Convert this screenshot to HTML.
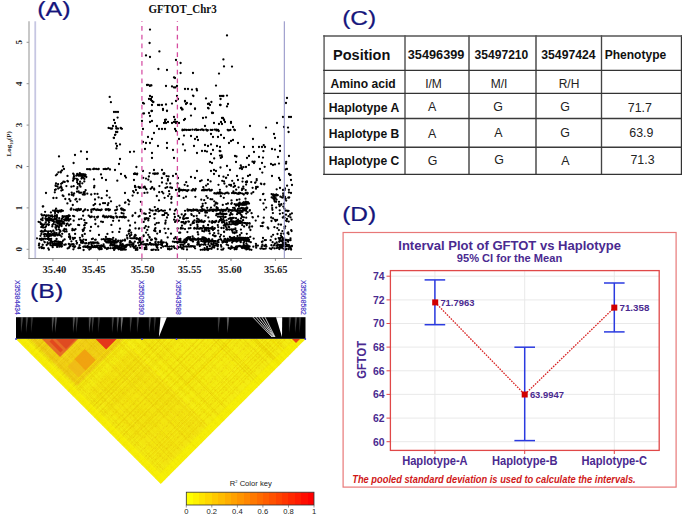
<!DOCTYPE html>
<html><head><meta charset="utf-8"><style>
html,body{margin:0;padding:0;background:#fff;overflow:hidden;}
svg{display:block;}
</style></head><body>
<svg width="685" height="516" viewBox="0 0 685 516">
<rect width="685" height="516" fill="#fff"/>
<text x="37.2" y="15.8" font-family='"Liberation Sans", sans-serif' font-size="19.6" fill="#16167c" font-weight="normal" text-anchor="start" textLength="33.4" lengthAdjust="spacingAndGlyphs" stroke="#16167c" stroke-width="0.2">(A)</text>
<text x="148.4" y="13.2" font-family='"Liberation Serif", serif' font-size="12.4" fill="#111" font-weight="bold" text-anchor="start" textLength="68.3" lengthAdjust="spacingAndGlyphs" >GFTOT_Chr3</text>
<path d="M109.7 96.9h0M110.9 102.2h0M114.0 112.0h0M116.0 112.0h0M118.0 112.0h0M117.6 117.6h0M114.0 120.0h0M115.0 123.0h0M113.0 126.0h0M116.0 132.0h0M115.0 135.0h0M114.0 138.0h0M116.0 143.6h0M120.0 144.4h0M117.0 146.0h0M116.4 148.4h0M130.0 152.0h0M134.0 151.6h0M120.0 159.0h0M119.0 164.0h0M115.0 170.0h0M117.3 132.0h0M115.4 134.6h0M113.7 137.8h0M116.0 126.4h0M59.0 156.4h0M75.0 155.0h0M81.0 151.4h0M87.0 152.0h0M87.0 159.0h0M73.6 163.0h0M63.0 166.4h0M64.0 169.0h0M62.0 170.4h0M121.0 174.0h0M125.0 176.0h0M126.0 177.6h0M101.0 174.4h0M102.0 178.0h0M106.0 180.0h0M134.0 174.0h0M137.0 174.4h0M136.4 167.0h0M46.0 193.0h0M107.0 191.0h0M125.0 193.0h0M134.0 180.0h0M135.0 186.0h0M136.0 190.0h0M150.0 96.0h0M152.0 97.0h0M149.0 99.0h0M151.0 100.0h0M153.0 102.0h0M158.0 105.0h0M162.0 105.0h0M166.0 104.4h0M152.0 105.0h0M143.0 103.0h0M163.0 110.0h0M167.0 111.0h0M149.0 113.0h0M152.0 111.0h0M143.0 113.6h0M165.0 120.0h0M166.0 123.0h0M164.0 123.0h0M150.0 122.0h0M152.0 121.0h0M157.0 126.0h0M159.0 129.0h0M162.0 129.0h0M165.0 129.0h0M143.0 129.0h0M154.0 133.0h0M148.0 137.0h0M152.0 139.0h0M143.0 142.0h0M146.0 143.0h0M150.0 143.0h0M158.0 146.0h0M167.0 143.0h0M167.0 148.0h0M145.0 149.0h0M152.0 153.0h0M152.0 158.0h0M143.0 171.0h0M154.0 170.0h0M162.0 170.0h0M150.0 29.6h0M149.6 43.0h0M159.4 51.4h0M146.0 55.4h0M150.0 57.0h0M227.0 35.4h0M176.0 60.0h0M180.6 63.0h0M223.4 59.4h0M224.0 66.4h0M232.0 66.6h0M158.4 69.0h0M167.0 70.0h0M180.6 73.0h0M193.0 73.0h0M219.0 73.6h0M174.0 77.4h0M175.0 78.0h0M147.0 85.0h0M150.0 85.4h0M151.4 85.4h0M166.0 86.0h0M172.0 86.4h0M174.0 87.4h0M175.4 87.4h0M177.0 86.0h0M185.0 89.0h0M188.0 89.0h0M192.0 89.6h0M196.6 89.0h0M197.0 90.4h0M216.0 85.6h0M193.4 96.0h0M220.0 96.0h0M222.0 96.0h0M223.4 96.0h0M227.0 95.6h0M220.6 99.0h0M150.0 96.0h0M151.0 99.0h0M152.0 101.0h0M153.4 102.0h0M177.0 96.0h0M176.0 101.0h0M185.0 101.6h0M186.0 104.0h0M206.0 98.4h0M211.4 102.0h0M209.0 103.6h0M210.0 105.0h0M144.0 103.6h0M152.0 105.0h0M158.0 105.0h0M159.4 105.0h0M162.0 105.0h0M166.0 104.6h0M172.0 103.6h0M190.6 104.0h0M220.6 105.0h0M228.0 104.0h0M227.0 106.4h0M181.4 108.0h0M182.6 109.4h0M195.0 108.4h0M163.0 109.0h0M167.0 110.6h0M151.4 111.0h0M208.6 108.4h0M144.0 113.4h0M212.0 112.6h0M213.0 113.0h0M150.0 116.0h0M191.0 115.6h0M185.0 119.0h0M184.0 120.0h0M203.0 118.0h0M206.0 117.4h0M223.0 118.0h0M224.0 119.4h0M174.0 117.0h0M175.0 119.6h0M166.0 119.6h0M142.0 121.0h0M165.0 122.0h0M168.0 122.0h0M174.0 122.0h0M177.0 122.0h0M221.0 122.0h0M225.0 122.0h0M231.0 122.0h0M193.0 95.6h0M177.0 96.0h0M178.0 99.0h0M185.0 101.0h0M187.0 103.0h0M191.0 104.0h0M208.0 104.0h0M220.0 105.0h0M181.0 108.0h0M182.0 109.6h0M195.0 109.0h0M208.0 108.0h0M212.0 113.0h0M191.0 115.6h0M222.0 118.0h0M224.0 120.0h0M175.0 122.0h0M172.0 123.0h0M176.0 123.0h0M179.0 123.0h0M214.0 123.0h0M219.0 124.0h0M222.0 124.0h0M231.0 123.0h0M233.0 127.0h0M205.0 126.0h0M250.0 126.0h0M266.0 127.6h0M277.0 123.0h0M283.0 117.0h0M289.0 117.0h0M291.0 117.0h0M286.0 103.0h0M287.0 98.0h0M175.0 129.0h0M176.0 131.0h0M284.0 127.0h0M288.0 127.6h0M288.6 132.0h0M274.0 134.0h0M275.0 138.0h0M253.0 139.0h0M184.0 135.6h0M191.0 136.0h0M197.0 137.0h0M195.0 139.0h0M198.0 140.0h0M211.0 134.0h0M213.0 137.0h0M218.0 137.0h0M221.0 135.0h0M224.0 138.0h0M231.0 141.0h0M233.0 140.0h0M229.0 143.0h0M179.0 139.0h0M183.0 144.4h0M185.0 150.4h0M205.0 145.0h0M208.0 146.0h0M211.0 144.4h0M217.0 146.0h0M220.0 147.0h0M194.0 146.0h0M173.0 150.0h0M202.0 151.0h0M205.0 151.0h0M207.0 151.6h0M213.0 150.0h0M197.0 153.0h0M238.0 143.0h0M244.0 147.0h0M259.0 147.0h0M262.0 147.0h0M265.0 147.0h0M253.0 147.0h0M254.0 152.0h0M272.0 149.0h0M275.0 149.6h0M280.0 146.0h0M280.0 151.0h0M220.0 155.6h0M222.0 157.0h0M211.0 154.0h0M235.0 156.0h0M259.0 157.0h0M263.0 157.6h0M278.0 157.0h0M289.0 156.0h0M247.0 158.0h0M249.0 156.0h0M174.0 158.0h0M254.0 163.0h0M262.0 163.0h0M236.0 162.0h0M271.0 164.0h0M273.0 165.0h0M275.0 164.4h0M279.0 163.6h0M210.0 162.0h0M212.0 163.0h0M286.0 163.6h0M242.0 169.0h0M246.0 167.0h0M260.0 169.0h0M227.0 166.0h0M287.0 169.0h0M289.0 174.0h0M211.0 171.0h0M214.0 170.0h0M216.0 171.0h0M197.0 171.0h0M230.0 170.0h0M214.0 174.0h0M219.0 176.0h0M237.0 176.0h0M238.0 180.0h0M248.0 176.0h0M250.0 175.0h0M272.0 176.0h0M279.0 178.0h0M280.0 180.0h0M291.0 180.0h0M292.0 185.0h0M173.0 176.0h0M176.0 174.0h0M178.0 178.0h0M191.0 177.0h0M195.0 178.0h0M208.0 180.0h0M226.0 178.0h0M231.0 185.0h0M235.0 186.0h0M280.0 188.0h0M283.0 190.0h0M291.0 193.0h0M172.0 188.0h0M176.0 190.0h0M180.0 190.0h0M110.4 128.3h0M111.0 128.7h0M112.0 128.6h0M120.7 127.8h0M116.3 128.4h0M121.9 128.8h0M120.9 128.3h0M108.6 127.9h0M118.1 128.6h0M116.6 128.6h0M112.1 128.5h0M117.0 128.5h0M148.0 84.8h0M151.1 85.4h0M149.9 85.9h0M203.3 130.1h0M184.8 129.7h0M210.7 129.9h0M200.4 129.8h0M198.2 129.9h0M190.1 129.9h0M188.6 129.9h0M217.2 130.0h0M214.8 129.6h0M216.4 129.6h0M218.7 131.0h0M186.6 130.0h0M218.1 129.9h0M203.7 130.0h0M182.4 130.3h0M207.8 130.2h0M196.3 129.5h0M206.2 129.6h0M196.8 130.0h0M194.7 129.8h0M195.2 129.6h0M202.0 129.5h0M184.0 130.0h0M212.4 129.9h0M216.5 130.4h0M207.8 130.2h0M206.5 130.2h0M207.3 130.7h0M182.5 129.6h0M192.4 129.7h0M228.3 130.4h0M229.6 130.2h0M230.4 129.9h0M234.2 129.6h0M227.7 129.8h0M235.0 130.1h0M234.4 130.1h0M94.0 169.1h0M98.0 169.2h0M94.0 168.6h0M93.1 169.1h0M96.1 169.0h0M98.7 169.0h0M87.1 169.2h0M90.4 169.4h0M89.1 169.2h0M108.2 168.4h0M106.8 169.1h0M105.2 169.0h0M110.0 169.5h0M103.6 169.1h0M149.7 173.1h0M164.3 173.4h0M156.8 173.7h0M164.0 174.0h0M157.8 173.5h0M163.4 173.8h0M164.3 173.8h0M164.2 173.4h0M155.0 173.5h0M163.7 173.4h0M154.9 174.0h0M153.2 173.6h0M135.3 173.9h0M137.2 173.6h0M135.0 173.3h0M246.9 182.2h0M245.9 182.0h0M246.5 181.8h0M251.2 182.1h0M247.0 181.5h0M242.5 181.6h0M260.9 183.6h0M264.2 184.3h0M264.4 183.9h0M261.3 184.1h0M261.3 184.1h0M210.1 190.1h0M195.0 190.5h0M210.5 190.4h0M209.1 189.4h0M182.5 190.4h0M180.3 189.9h0M211.8 190.0h0M204.8 190.3h0M203.5 189.9h0M191.6 190.4h0M185.9 190.3h0M207.0 190.3h0M204.1 189.6h0M187.1 190.3h0M205.4 189.9h0M203.2 190.1h0M207.3 189.9h0M188.5 190.1h0M202.4 190.2h0M203.7 189.7h0M181.4 189.8h0M178.6 189.5h0M195.1 189.9h0M210.0 190.5h0M211.1 190.5h0M202.0 190.3h0M184.9 190.1h0M203.5 190.3h0M179.4 190.7h0M183.4 190.0h0M101.5 209.8h0M76.0 209.6h0M92.6 209.4h0M91.3 210.0h0M97.5 209.4h0M106.1 209.5h0M109.9 209.6h0M101.4 209.6h0M70.7 209.4h0M80.8 209.7h0M105.7 209.5h0M77.0 209.5h0M108.7 210.3h0M100.3 210.2h0M100.3 210.3h0M109.6 210.0h0M101.7 209.6h0M108.4 209.2h0M78.6 208.9h0M73.7 209.6h0M105.9 209.9h0M99.0 209.8h0M85.0 209.6h0M70.9 209.8h0M98.0 209.9h0M80.9 209.1h0M109.2 209.3h0M91.5 209.7h0M97.7 209.8h0M84.3 210.3h0M79.1 209.7h0M93.4 209.3h0M85.2 209.5h0M87.8 210.2h0M106.9 209.3h0M79.8 210.1h0M93.6 209.5h0M94.4 209.0h0M96.2 210.0h0M79.9 209.8h0M123.2 209.5h0M124.7 210.2h0M115.1 210.3h0M117.1 209.5h0M122.3 209.6h0M116.5 209.9h0M123.7 210.3h0M121.5 209.6h0M121.8 209.5h0M106.2 216.5h0M97.2 216.9h0M125.8 217.2h0M111.7 217.0h0M103.0 216.4h0M121.7 217.1h0M120.2 216.8h0M91.7 216.7h0M117.0 217.4h0M97.8 217.2h0M94.3 216.9h0M111.9 217.3h0M122.8 217.0h0M122.7 217.2h0M108.6 216.5h0M97.6 217.0h0M90.1 217.0h0M116.9 216.9h0M90.2 216.9h0M110.5 216.4h0M107.3 217.3h0M103.4 215.7h0M104.1 216.3h0M124.6 217.6h0M91.8 216.7h0M116.3 216.5h0M97.2 217.4h0M113.5 217.2h0M119.5 217.1h0M104.9 217.3h0M90.7 217.2h0M123.8 216.5h0M111.6 216.7h0M98.0 216.7h0M107.9 217.1h0M110.9 217.2h0M161.2 210.3h0M158.4 211.3h0M163.1 210.9h0M156.2 210.7h0M155.5 210.4h0M155.9 210.2h0M161.3 210.1h0M164.9 210.6h0M150.7 210.3h0M152.7 210.7h0M193.5 210.4h0M196.2 210.0h0M202.0 211.0h0M209.7 210.3h0M216.0 210.7h0M217.8 210.1h0M198.0 210.9h0M223.7 210.0h0M212.3 210.8h0M197.5 210.0h0M193.0 210.5h0M205.7 210.7h0M222.3 210.6h0M226.2 209.7h0M224.9 210.3h0M223.8 210.5h0M185.0 210.8h0M221.4 210.3h0M220.1 210.4h0M191.5 210.4h0M222.9 211.3h0M213.2 209.7h0M221.5 209.6h0M212.4 209.9h0M187.6 210.6h0M188.9 210.2h0M225.7 210.6h0M216.9 208.9h0M196.3 210.0h0M195.4 209.9h0M217.3 210.2h0M205.0 210.6h0M200.3 210.8h0M215.1 210.3h0M193.4 209.5h0M222.0 209.8h0M203.9 210.3h0M208.9 210.7h0M191.3 210.1h0M201.9 210.4h0M190.2 210.2h0M219.4 210.1h0M207.9 210.4h0M189.9 209.9h0M200.1 210.2h0M212.0 210.0h0M187.5 209.5h0M226.1 209.8h0M188.1 210.7h0M191.3 210.8h0M222.7 210.3h0M207.8 210.3h0M204.3 210.4h0M196.9 210.6h0M193.3 210.5h0M209.9 209.7h0M219.6 210.2h0M225.1 209.8h0M196.0 210.1h0M218.8 209.8h0M236.1 210.9h0M243.5 210.4h0M232.8 210.5h0M234.5 210.4h0M240.1 210.6h0M244.9 210.3h0M230.0 210.2h0M232.7 210.1h0M229.5 210.0h0M242.6 210.2h0M239.6 210.9h0M236.2 210.3h0M237.8 210.4h0M241.6 210.8h0M228.9 210.3h0M249.9 210.1h0M229.1 210.0h0M242.5 210.5h0M249.7 210.7h0M231.0 210.1h0M232.0 193.1h0M214.6 193.1h0M247.6 193.0h0M235.5 192.9h0M247.4 193.8h0M220.5 193.6h0M218.1 193.3h0M245.6 193.1h0M233.9 193.2h0M222.5 193.4h0M240.5 193.2h0M239.4 192.9h0M247.7 193.2h0M228.6 193.4h0M215.4 193.3h0M218.8 193.4h0M217.6 192.9h0M234.9 193.1h0M224.7 193.7h0M236.9 193.4h0M245.9 193.0h0M226.2 192.8h0M217.3 192.9h0M238.9 193.8h0M242.4 193.6h0M239.0 192.9h0M214.3 193.3h0M238.0 193.8h0M220.8 192.6h0M216.6 193.6h0M216.0 221.4h0M204.7 221.2h0M193.9 222.9h0M188.3 221.5h0M214.5 221.6h0M182.7 222.2h0M201.2 221.6h0M182.0 222.2h0M214.1 222.1h0M188.9 221.7h0M215.0 222.3h0M196.6 222.0h0M181.5 222.2h0M212.2 222.8h0M185.8 222.4h0M209.4 221.5h0M215.4 222.0h0M198.5 222.0h0M175.1 221.9h0M211.7 222.5h0M212.3 221.2h0M183.4 222.2h0M199.9 221.5h0M185.9 222.0h0M203.8 222.1h0M193.0 222.5h0M180.9 228.0h0M205.9 228.1h0M211.1 228.1h0M208.4 228.0h0M212.8 228.3h0M198.1 228.4h0M182.8 228.4h0M196.3 228.6h0M180.7 228.6h0M194.2 228.5h0M208.8 228.5h0M204.8 228.0h0M211.7 228.8h0M202.0 228.8h0M214.8 228.2h0M210.2 228.4h0M212.3 228.9h0M188.8 228.4h0M180.9 228.7h0M206.7 228.0h0M199.1 228.8h0M211.7 228.0h0M211.4 228.7h0M201.1 228.2h0M214.3 228.9h0M196.8 228.5h0M212.7 228.2h0M208.0 228.7h0M212.2 228.1h0M197.1 228.2h0M200.2 228.4h0M199.9 228.3h0M185.0 229.1h0M196.9 228.7h0M186.5 239.5h0M247.5 239.7h0M229.4 239.6h0M196.6 239.7h0M235.2 239.0h0M200.2 239.2h0M205.2 239.3h0M187.0 239.2h0M189.7 239.4h0M227.9 239.7h0M194.9 238.9h0M203.6 239.2h0M238.1 239.3h0M180.0 239.1h0M221.2 239.8h0M208.8 239.0h0M208.2 239.4h0M204.1 239.8h0M237.5 239.2h0M179.4 240.0h0M203.7 239.5h0M209.3 239.7h0M184.5 239.7h0M194.6 239.5h0M227.6 239.0h0M220.5 239.1h0M243.1 239.9h0M191.8 239.3h0M240.1 239.2h0M195.7 239.5h0M229.8 239.7h0M244.4 239.0h0M221.1 239.6h0M241.7 239.3h0M249.1 240.0h0M231.0 239.6h0M185.3 239.3h0M238.0 239.6h0M234.1 239.6h0M228.5 239.5h0M227.8 239.0h0M226.5 240.2h0M193.3 239.6h0M179.0 239.3h0M208.9 239.8h0M245.1 239.7h0M242.9 239.6h0M195.9 239.8h0M246.8 239.8h0M206.7 239.6h0M192.5 239.0h0M236.6 239.9h0M204.0 239.8h0M197.6 238.9h0M205.1 239.3h0M199.1 239.6h0M235.4 239.4h0M187.1 240.0h0M202.8 239.2h0M187.4 239.1h0M144.2 186.9h0M138.5 187.0h0M139.3 187.1h0M141.3 187.5h0M143.4 187.4h0M171.7 187.7h0M135.0 187.0h0M135.5 187.2h0M152.1 187.5h0M139.2 187.3h0M152.2 187.1h0M165.5 187.9h0M151.5 188.2h0M139.7 187.9h0M170.3 187.4h0M167.2 187.2h0M48.7 218.0h0M56.2 227.6h0M48.7 225.1h0M55.5 227.1h0M57.4 226.2h0M59.5 225.7h0M61.6 226.0h0M54.5 244.3h0M46.0 218.7h0M50.2 242.5h0M41.2 240.1h0M59.2 221.5h0M55.4 224.6h0M48.4 239.1h0M60.3 245.9h0M44.6 236.4h0M46.1 220.1h0M48.1 220.6h0M50.1 220.3h0M52.1 220.7h0M43.8 248.3h0M56.1 241.4h0M53.9 233.3h0M44.8 242.3h0M48.1 215.7h0M50.4 216.6h0M52.6 216.8h0M54.7 216.5h0M56.9 216.6h0M62.6 216.1h0M45.9 226.4h0M61.5 243.6h0M47.3 219.1h0M60.3 244.0h0M44.3 215.1h0M61.9 218.6h0M46.7 234.5h0M48.5 234.3h0M50.3 234.4h0M52.2 234.4h0M54.0 234.3h0M53.4 223.8h0M56.6 239.0h0M43.1 231.7h0M38.6 221.8h0M48.3 224.1h0M41.5 223.9h0M42.7 244.8h0M43.1 227.5h0M46.7 245.0h0M41.8 238.9h0M40.5 235.8h0M51.4 231.7h0M41.1 219.5h0M56.9 215.1h0M54.5 232.4h0M55.2 240.8h0M56.8 220.2h0M59.0 220.3h0M61.2 220.6h0M62.2 233.8h0M48.0 243.7h0M50.2 243.9h0M52.4 243.4h0M54.7 243.7h0M56.9 243.8h0M59.1 243.7h0M61.4 243.8h0M50.3 242.3h0M39.4 247.7h0M46.4 215.4h0M48.3 215.5h0M50.1 215.6h0M52.0 215.5h0M55.0 218.5h0M48.1 233.2h0M42.8 244.8h0M51.1 235.7h0M41.9 248.2h0M42.1 215.4h0M43.8 248.0h0M51.6 231.9h0M42.6 225.0h0M53.3 230.6h0M58.4 243.0h0M41.4 233.9h0M52.5 224.8h0M42.7 247.8h0M52.7 243.8h0M54.5 243.8h0M56.4 243.6h0M58.3 243.7h0M60.2 243.7h0M62.1 243.8h0M50.7 219.7h0M60.5 231.3h0M49.1 222.3h0M46.9 234.9h0M49.1 235.1h0M51.2 235.5h0M53.4 235.4h0M55.6 235.0h0M57.8 235.3h0M59.9 235.2h0M58.5 221.6h0M50.5 245.2h0M44.9 234.1h0M56.6 233.2h0M42.2 224.8h0M38.9 245.3h0M54.8 215.5h0M51.1 240.4h0M52.9 220.9h0M55.6 227.8h0M42.0 239.5h0M54.0 222.0h0M41.7 231.8h0M43.9 231.4h0M46.0 231.1h0M48.1 231.4h0M50.3 231.2h0M39.8 239.0h0M41.7 238.7h0M43.6 238.9h0M45.5 238.8h0M47.4 238.9h0M49.3 238.8h0M51.2 238.9h0M56.9 216.0h0M49.8 219.0h0M49.0 239.9h0M41.2 227.1h0M55.3 235.7h0M57.1 220.6h0M47.6 242.5h0M53.1 245.2h0M55.1 245.2h0M57.1 245.4h0M59.1 245.6h0M61.1 245.2h0M60.0 230.5h0M56.9 217.8h0M45.4 234.2h0M47.2 234.4h0M49.0 233.8h0M50.8 234.2h0M52.7 234.2h0M54.5 234.4h0M51.3 219.0h0M53.0 219.5h0M54.8 219.6h0M56.5 219.4h0M61.5 236.5h0M59.0 229.3h0M59.0 234.1h0M50.9 241.7h0M52.8 241.8h0M54.6 241.4h0M56.4 241.5h0M58.2 241.6h0M62.1 246.1h0M45.7 219.0h0M41.5 246.9h0M44.4 241.8h0M61.7 220.0h0M39.2 243.6h0M42.2 226.1h0M57.1 246.9h0M59.3 246.7h0M61.5 246.7h0M58.9 227.3h0M54.3 235.5h0M42.9 225.5h0M42.7 218.1h0M43.5 215.4h0M48.9 249.7h0M61.0 224.3h0M56.9 234.6h0M56.4 225.8h0M52.3 226.4h0M62.6 216.6h0M42.6 220.2h0M48.2 234.9h0M48.3 248.3h0M40.9 224.0h0M52.7 247.2h0M45.0 230.1h0M43.2 239.6h0M43.9 234.3h0M46.8 235.9h0M49.0 236.2h0M42.1 224.3h0M44.3 224.3h0M46.6 224.6h0M48.9 224.6h0M49.4 236.1h0M59.5 220.6h0M45.7 222.5h0M57.6 223.7h0M59.3 223.7h0M61.0 223.9h0M62.6 223.7h0M48.4 237.3h0M59.2 218.2h0M40.8 231.3h0M40.3 222.5h0M46.3 220.5h0M46.0 216.3h0M61.7 220.4h0M59.5 232.4h0M41.7 230.9h0M56.5 229.7h0M45.2 227.5h0M47.8 219.2h0M51.0 231.6h0M61.6 242.4h0M57.9 241.6h0M60.0 241.8h0M62.2 241.8h0M47.6 220.1h0M52.2 245.7h0M45.4 218.4h0M56.2 222.0h0M58.2 222.3h0M60.2 221.8h0M62.2 221.9h0M69.0 237.0h0M70.1 237.5h0M64.5 228.9h0M69.7 215.9h0M64.7 220.6h0M66.7 220.4h0M68.8 220.7h0M63.9 230.1h0M64.3 223.5h0M69.2 236.3h0M68.8 243.9h0M68.9 225.4h0M65.7 244.5h0M65.5 216.4h0M64.3 244.8h0M66.8 216.3h0M67.5 223.7h0M66.6 231.4h0M63.3 230.7h0M69.2 247.7h0M66.1 218.4h0M63.1 240.6h0M69.0 215.5h0M66.2 216.8h0M66.9 223.9h0M69.5 219.6h0M67.7 248.4h0M64.6 239.4h0M66.1 225.6h0M64.8 219.4h0M66.7 219.3h0M68.6 219.3h0M70.4 219.1h0M68.1 217.9h0M68.1 217.3h0M63.2 222.1h0M68.0 215.8h0M70.4 245.9h0M66.2 229.4h0M66.8 216.2h0M64.8 231.6h0M64.3 216.3h0M64.1 219.7h0M69.2 244.1h0M63.3 217.2h0M69.2 234.2h0M69.6 246.4h0M42.8 206.5h0M58.2 212.4h0M56.8 211.1h0M58.8 211.4h0M60.9 211.5h0M62.9 210.8h0M41.5 214.4h0M61.4 210.1h0M56.1 208.6h0M50.9 212.4h0M55.1 213.1h0M54.9 211.6h0M43.2 206.4h0M53.0 210.6h0M55.1 210.4h0M57.3 210.7h0M59.4 210.6h0M61.5 210.4h0M45.1 211.8h0M64.7 181.9h0M67.4 203.4h0M67.9 181.4h0M62.7 195.5h0M56.0 183.4h0M55.7 185.9h0M55.6 185.4h0M67.4 180.9h0M62.2 183.1h0M56.5 197.9h0M69.3 199.2h0M58.1 184.2h0M61.1 183.8h0M62.6 189.9h0M69.0 194.5h0M55.0 190.0h0M63.5 196.1h0M65.3 199.0h0M63.4 181.6h0M61.1 186.5h0M57.5 186.4h0M53.4 198.0h0M85.3 175.1h0M77.2 174.5h0M79.2 174.4h0M81.1 174.1h0M83.0 174.1h0M84.9 174.3h0M84.7 193.9h0M77.2 188.7h0M81.5 178.6h0M80.5 186.7h0M73.4 195.6h0M85.6 190.2h0M71.7 192.6h0M77.0 191.7h0M72.6 194.6h0M84.4 178.9h0M84.7 192.0h0M79.7 183.7h0M77.1 182.2h0M77.5 187.1h0M77.2 174.0h0M82.8 194.4h0M73.4 178.7h0M79.7 185.4h0M77.9 183.8h0M71.4 186.7h0M82.4 174.9h0M74.6 178.4h0M78.6 191.4h0M82.3 183.3h0M83.6 192.5h0M83.8 194.5h0M84.3 181.4h0M85.6 174.8h0M81.0 192.7h0M74.1 193.5h0M84.8 194.5h0M71.7 194.8h0M83.5 177.7h0M73.7 186.2h0M79.3 192.7h0M76.8 178.8h0M73.0 180.7h0M73.7 174.3h0M79.8 173.2h0M77.2 180.2h0M80.1 181.7h0M82.9 174.8h0M79.3 175.7h0M81.9 177.2h0M83.9 175.1h0M77.8 179.7h0M73.7 177.5h0M74.0 176.2h0M73.7 179.3h0M84.5 174.7h0M73.2 173.6h0M79.1 175.1h0M76.3 175.7h0M78.4 175.5h0M80.5 175.7h0M82.6 175.6h0M84.7 176.0h0M99.9 204.4h0M91.2 194.5h0M105.0 203.2h0M97.5 193.9h0M106.8 195.4h0M95.0 199.5h0M94.8 193.8h0M109.6 197.6h0M93.6 205.2h0M107.8 205.0h0M108.4 203.2h0M61.3 190.6h0M58.4 172.3h0M67.5 175.9h0M57.0 174.3h0M55.9 175.3h0M66.4 186.1h0M61.8 188.1h0M55.8 189.4h0M54.8 192.3h0M58.2 188.6h0M59.8 187.6h0M60.7 171.6h0M60.8 172.4h0M79.7 199.4h0M70.4 201.0h0M71.3 208.4h0M73.1 215.8h0M77.1 201.6h0M72.8 205.0h0M83.1 215.7h0M76.2 198.8h0M75.4 199.6h0M77.4 210.7h0M83.1 211.3h0M75.8 209.9h0M84.1 225.3h0M79.0 219.3h0M82.2 235.1h0M82.7 229.8h0M83.0 231.1h0M81.3 218.9h0M74.2 216.3h0M79.2 225.1h0M75.5 229.2h0M84.8 233.9h0M78.2 224.9h0M84.6 227.8h0M79.9 237.8h0M74.3 230.2h0M70.6 224.3h0M72.8 237.8h0M83.9 229.1h0M73.7 220.7h0M82.5 236.3h0M84.3 220.2h0M74.2 246.3h0M75.1 246.4h0M79.6 245.2h0M79.0 247.5h0M73.0 246.3h0M81.9 240.7h0M71.3 244.4h0M73.7 244.4h0M73.3 239.2h0M77.0 242.8h0M76.7 243.7h0M81.1 242.7h0M78.4 248.2h0M76.3 241.1h0M80.3 239.9h0M81.1 240.9h0M80.1 248.0h0M74.4 247.3h0M73.4 249.3h0M71.4 241.3h0M72.8 244.2h0M120.1 247.9h0M122.7 244.2h0M120.8 248.3h0M98.5 243.4h0M115.4 247.8h0M124.3 247.4h0M105.2 241.1h0M106.8 241.3h0M108.4 241.1h0M110.0 241.3h0M111.6 241.7h0M113.2 241.2h0M114.9 241.0h0M116.5 241.4h0M118.1 241.4h0M83.0 241.8h0M108.6 241.1h0M124.9 240.5h0M86.1 246.9h0M124.3 247.0h0M108.6 242.2h0M83.3 242.3h0M90.6 248.7h0M110.2 239.9h0M89.0 242.8h0M90.7 242.4h0M92.3 242.4h0M94.0 242.7h0M95.7 242.7h0M97.4 242.8h0M97.5 242.3h0M110.9 244.5h0M112.7 244.8h0M114.5 244.2h0M105.0 247.8h0M120.9 249.8h0M121.5 241.5h0M119.3 247.1h0M120.8 249.5h0M122.5 249.7h0M124.1 249.5h0M125.8 249.6h0M115.8 246.5h0M115.8 239.3h0M88.8 243.8h0M117.1 247.0h0M103.2 246.6h0M95.1 239.8h0M93.8 242.4h0M106.7 248.5h0M82.8 242.9h0M108.2 247.8h0M93.1 246.8h0M104.0 239.3h0M105.7 239.2h0M107.4 238.8h0M109.1 238.9h0M110.8 239.2h0M112.5 239.3h0M95.7 239.7h0M116.9 241.8h0M91.9 246.0h0M91.5 244.4h0M115.8 242.3h0M84.2 246.5h0M86.0 240.0h0M115.9 245.8h0M101.1 248.1h0M110.3 245.5h0M112.5 245.6h0M114.7 245.8h0M116.9 245.6h0M119.1 246.1h0M121.2 245.6h0M123.4 245.4h0M125.6 245.5h0M124.9 239.7h0M105.3 240.1h0M82.1 242.7h0M114.5 248.9h0M122.6 249.7h0M108.8 240.6h0M85.2 243.4h0M85.5 246.5h0M108.5 248.3h0M110.7 248.2h0M113.0 248.2h0M115.2 248.5h0M117.4 248.2h0M119.6 247.9h0M121.9 248.2h0M124.1 248.4h0M123.1 245.3h0M98.5 248.4h0M111.7 243.9h0M91.9 239.1h0M106.4 242.3h0M108.1 242.5h0M109.8 242.5h0M111.5 242.5h0M113.2 242.5h0M115.0 242.8h0M116.7 242.5h0M100.1 248.9h0M109.3 239.9h0M83.3 246.8h0M85.5 246.9h0M87.6 247.0h0M89.8 246.8h0M120.3 244.3h0M118.7 249.3h0M121.9 247.0h0M89.3 249.6h0M118.2 240.7h0M120.5 240.7h0M122.7 240.4h0M125.0 240.5h0M93.6 243.4h0M119.2 247.0h0M121.4 247.0h0M123.7 246.5h0M125.9 247.1h0M83.6 239.7h0M101.7 249.0h0M99.5 249.4h0M100.0 246.3h0M96.8 245.9h0M108.0 242.6h0M87.8 247.7h0M89.7 247.6h0M91.6 247.3h0M93.5 247.2h0M95.4 247.2h0M97.3 247.2h0M99.2 247.8h0M101.1 247.2h0M120.2 242.7h0M114.1 249.9h0M86.4 243.2h0M103.6 244.3h0M106.9 249.1h0M101.7 239.3h0M103.6 239.2h0M105.6 239.3h0M107.5 239.2h0M113.9 240.9h0M88.8 247.4h0M114.4 243.9h0M94.5 245.9h0M96.2 246.1h0M97.9 245.8h0M99.6 245.9h0M101.3 245.5h0M103.1 245.8h0M87.7 246.0h0M121.7 244.4h0M96.8 245.7h0M83.6 250.0h0M114.1 247.5h0M104.5 246.4h0M70.2 238.9h0M75.1 233.9h0M85.2 222.8h0M84.8 225.0h0M102.9 222.0h0M111.4 224.9h0M99.0 234.9h0M120.0 228.7h0M74.9 237.9h0M113.2 237.8h0M91.0 226.9h0M107.4 233.9h0M72.3 230.3h0M113.1 220.8h0M92.9 238.7h0M113.5 218.1h0M83.7 230.3h0M72.5 228.9h0M112.5 232.1h0M98.2 226.4h0M105.9 237.0h0M119.2 231.9h0M95.2 219.5h0M101.1 221.6h0M95.4 224.0h0M90.2 230.8h0M119.0 220.7h0M70.1 236.5h0M86.5 223.1h0M95.1 203.9h0M116.8 206.8h0M119.5 205.6h0M128.1 199.9h0M125.0 202.8h0M115.7 213.3h0M111.0 201.3h0M129.4 201.3h0M121.6 213.0h0M123.6 213.7h0M91.4 212.0h0M101.7 198.2h0M125.4 202.5h0M121.6 208.4h0M121.0 208.7h0M98.6 197.4h0M103.1 203.2h0M88.7 215.7h0M94.1 187.4h0M86.3 177.0h0M94.0 179.4h0M117.3 180.7h0M94.4 185.9h0M87.3 193.7h0M133.2 243.4h0M138.9 238.8h0M127.4 238.6h0M140.0 238.1h0M140.2 242.3h0M132.9 244.1h0M129.7 242.4h0M130.3 241.6h0M140.7 242.4h0M130.6 246.7h0M140.0 247.9h0M130.8 242.3h0M133.5 243.9h0M140.8 244.6h0M127.4 245.0h0M131.2 244.7h0M139.3 240.7h0M135.6 248.5h0M130.3 238.1h0M131.9 238.3h0M133.5 238.2h0M135.1 238.2h0M136.8 238.1h0M138.1 242.8h0M133.0 246.4h0M129.0 244.6h0M134.8 241.7h0M137.4 249.8h0M127.0 244.8h0M129.2 245.1h0M131.3 244.8h0M133.4 245.1h0M140.1 240.5h0M127.1 245.5h0M135.8 246.0h0M136.7 238.9h0M138.7 239.1h0M140.8 238.9h0M129.9 241.2h0M139.0 245.4h0M135.8 249.9h0M141.0 243.2h0M137.4 247.9h0M139.6 241.9h0M131.3 242.3h0M134.6 247.1h0M134.0 247.8h0M161.5 244.9h0M141.7 244.3h0M143.3 244.4h0M145.0 244.2h0M146.7 244.2h0M148.4 244.6h0M150.0 244.1h0M151.7 244.5h0M153.4 244.5h0M155.0 244.4h0M157.3 245.7h0M151.1 240.0h0M156.8 247.0h0M143.2 241.7h0M145.0 249.1h0M162.0 245.3h0M162.2 242.2h0M147.3 239.9h0M144.8 249.2h0M161.9 244.5h0M144.8 247.8h0M152.3 249.9h0M161.1 247.8h0M145.1 248.4h0M147.4 240.7h0M151.5 239.7h0M149.9 243.2h0M150.1 242.9h0M155.6 241.7h0M155.8 238.6h0M161.6 243.2h0M157.5 247.9h0M156.2 245.7h0M155.1 238.3h0M151.1 244.7h0M161.4 240.5h0M146.4 247.1h0M155.4 242.5h0M146.2 244.4h0M162.4 243.0h0M145.4 244.3h0M147.6 244.4h0M149.8 244.1h0M151.9 244.2h0M154.1 244.6h0M156.3 244.2h0M158.4 244.4h0M160.6 244.3h0M151.9 239.7h0M156.3 239.3h0M155.3 238.8h0M151.5 249.9h0M153.7 249.6h0M155.9 249.9h0M146.6 249.1h0M141.6 242.3h0M160.4 242.2h0M162.1 242.5h0M158.2 242.2h0M158.2 249.9h0M145.8 245.4h0M163.2 246.6h0M165.3 246.1h0M167.3 246.6h0M169.4 246.7h0M171.5 246.3h0M166.2 242.6h0M167.2 244.1h0M167.0 245.0h0M168.7 248.8h0M163.8 242.3h0M168.0 249.0h0M169.7 249.4h0M171.5 248.8h0M204.7 238.0h0M205.5 242.6h0M203.5 237.3h0M216.0 245.6h0M218.0 245.0h0M217.8 246.3h0M204.8 243.0h0M208.4 244.4h0M186.9 246.6h0M188.6 246.4h0M190.3 246.4h0M177.1 248.8h0M208.6 242.6h0M184.6 243.6h0M207.9 239.4h0M173.9 246.4h0M177.6 242.8h0M185.5 239.9h0M183.1 245.1h0M216.7 243.3h0M199.8 246.0h0M190.2 238.5h0M183.5 249.1h0M199.4 244.9h0M201.4 244.6h0M203.5 244.7h0M205.5 244.8h0M197.3 244.7h0M191.7 240.4h0M180.5 244.6h0M212.3 239.3h0M186.7 238.2h0M211.1 240.9h0M213.2 241.0h0M215.4 241.1h0M217.5 241.2h0M190.5 239.1h0M198.2 241.5h0M187.8 238.2h0M209.8 246.2h0M190.1 237.2h0M205.2 240.4h0M181.9 248.5h0M205.3 238.2h0M201.9 238.9h0M203.9 238.8h0M205.9 238.6h0M214.2 245.5h0M174.8 248.2h0M214.7 241.3h0M211.0 248.7h0M211.5 244.4h0M194.1 247.0h0M182.6 244.7h0M179.8 241.9h0M181.5 242.3h0M183.1 242.1h0M184.7 242.2h0M186.4 241.9h0M216.6 245.2h0M204.6 248.2h0M198.8 242.1h0M208.0 250.0h0M198.3 238.3h0M214.2 247.5h0M207.0 246.8h0M193.0 241.6h0M217.7 249.1h0M213.1 245.0h0M197.5 242.7h0M177.1 239.0h0M214.7 241.2h0M211.3 243.7h0M213.6 243.5h0M215.8 243.5h0M194.8 246.3h0M199.0 244.1h0M207.2 248.1h0M172.9 241.6h0M174.6 242.0h0M176.4 242.0h0M178.1 241.9h0M179.8 242.1h0M190.6 240.1h0M211.6 248.8h0M188.7 244.5h0M180.5 240.5h0M187.0 249.5h0M188.2 237.1h0M213.6 242.8h0M183.4 241.7h0M212.4 247.2h0M208.1 240.0h0M184.3 246.6h0M186.1 246.5h0M187.8 246.6h0M189.5 246.5h0M191.2 246.5h0M192.9 246.2h0M183.6 241.2h0M191.2 246.1h0M178.4 247.5h0M180.5 247.1h0M182.7 247.4h0M195.1 248.3h0M209.1 248.8h0M194.0 238.3h0M217.1 245.1h0M205.7 249.4h0M203.1 241.5h0M204.7 241.8h0M206.3 241.3h0M208.0 241.4h0M209.6 241.7h0M211.2 241.5h0M212.9 241.3h0M206.8 239.8h0M174.1 238.6h0M201.2 240.9h0M201.1 239.4h0M180.6 246.2h0M202.4 237.3h0M200.7 249.8h0M202.7 249.7h0M204.6 249.8h0M206.6 249.4h0M208.5 249.1h0M180.4 238.8h0M188.1 244.5h0M173.1 246.7h0M177.9 247.0h0M189.2 238.4h0M128.5 231.3h0M131.3 234.8h0M139.2 228.4h0M128.5 220.7h0M129.8 230.5h0M130.0 225.5h0M135.5 228.4h0M131.2 232.7h0M127.3 237.8h0M139.5 216.0h0M129.0 231.4h0M129.6 229.9h0M135.2 234.9h0M138.9 228.7h0M138.6 216.6h0M126.9 235.5h0M135.1 222.7h0M132.5 216.1h0M129.9 236.0h0M135.7 235.5h0M128.9 233.8h0M134.4 236.4h0M148.5 227.0h0M149.7 237.7h0M155.4 231.2h0M154.9 229.1h0M155.1 224.6h0M154.2 214.3h0M167.7 237.4h0M155.3 213.9h0M144.9 219.5h0M148.2 234.8h0M159.9 231.9h0M156.7 223.1h0M158.8 222.8h0M168.1 214.9h0M146.4 218.2h0M148.1 218.3h0M144.2 213.5h0M143.6 236.2h0M164.9 213.1h0M162.4 215.1h0M155.5 228.1h0M146.1 232.6h0M149.4 237.0h0M148.3 220.4h0M157.2 233.6h0M146.4 218.7h0M168.3 228.8h0M144.8 218.4h0M144.5 228.0h0M145.8 226.2h0M154.5 218.3h0M147.3 229.9h0M165.7 220.6h0M154.1 230.6h0M165.3 223.7h0M167.0 217.5h0M160.0 231.0h0M150.0 216.2h0M148.6 218.6h0M164.1 214.9h0M143.7 221.9h0M165.5 222.6h0M143.6 235.4h0M145.7 213.9h0M166.7 213.2h0M164.6 228.6h0M165.7 233.1h0M174.3 214.0h0M171.0 233.7h0M175.5 237.7h0M177.7 228.5h0M176.4 220.5h0M175.6 237.1h0M176.1 209.3h0M174.9 217.0h0M170.0 209.5h0M174.9 210.6h0M171.4 202.7h0M174.1 219.7h0M221.4 220.4h0M204.7 229.3h0M218.4 233.4h0M224.1 232.1h0M205.5 215.7h0M203.4 221.9h0M202.3 230.9h0M203.4 225.9h0M178.3 220.9h0M223.9 236.3h0M203.3 227.3h0M213.0 230.0h0M220.0 236.8h0M194.5 220.3h0M187.9 218.1h0M209.3 230.9h0M197.6 226.4h0M221.4 227.9h0M192.5 223.3h0M204.1 231.4h0M185.3 214.2h0M201.5 220.4h0M178.9 220.6h0M183.7 216.2h0M212.4 226.8h0M182.0 225.7h0M191.7 214.9h0M180.2 232.7h0M216.2 220.8h0M209.7 233.4h0M199.7 220.8h0M196.9 221.1h0M192.6 236.5h0M208.1 225.0h0M224.2 222.6h0M184.4 218.6h0M190.6 225.0h0M214.4 236.0h0M223.7 228.1h0M208.3 217.4h0M220.4 217.0h0M185.3 223.4h0M206.4 228.7h0M187.4 232.1h0M221.0 218.9h0M202.2 221.7h0M217.8 225.1h0M197.1 218.7h0M183.0 218.1h0M180.0 217.7h0M194.5 227.8h0M225.5 225.9h0M208.5 230.9h0M206.2 230.6h0M186.3 218.2h0M224.1 231.6h0M179.2 232.7h0M223.6 214.5h0M198.2 234.4h0M178.3 215.9h0M184.9 214.8h0M197.3 224.7h0M183.5 219.2h0M191.3 214.1h0M218.2 230.7h0M220.9 234.8h0M184.3 223.6h0M196.7 215.8h0M193.2 221.7h0M197.7 232.2h0M215.6 236.0h0M213.0 235.2h0M221.4 228.1h0M193.8 216.2h0M198.6 219.4h0M181.7 214.3h0M190.5 228.1h0M205.6 203.2h0M210.0 210.5h0M202.2 209.1h0M216.0 202.7h0M207.0 212.6h0M217.6 208.0h0M210.6 199.2h0M201.5 207.0h0M202.7 206.0h0M206.0 210.7h0M201.3 199.7h0M213.2 211.0h0M216.6 207.2h0M199.3 213.0h0M203.9 209.7h0M211.0 207.6h0M215.6 203.6h0M205.3 212.5h0M215.1 209.6h0M202.7 203.8h0M212.3 199.3h0M204.2 200.2h0M207.2 207.8h0M140.9 201.8h0M132.7 215.4h0M133.1 191.1h0M140.9 211.2h0M135.3 213.0h0M132.6 195.6h0M128.8 204.3h0M133.9 192.3h0M137.7 193.0h0M140.7 209.7h0M149.8 209.3h0M147.4 192.7h0M167.9 179.1h0M168.6 176.4h0M150.8 181.7h0M169.5 194.1h0M167.9 180.5h0M161.9 178.0h0M162.1 191.8h0M146.3 189.2h0M148.3 179.7h0M166.6 176.1h0M166.5 183.6h0M163.3 193.3h0M154.2 189.5h0M159.4 186.1h0M144.6 186.6h0M159.2 192.2h0M157.9 208.9h0M143.2 177.8h0M168.1 196.1h0M149.5 212.9h0M154.8 207.1h0M144.5 192.9h0M169.0 191.2h0M148.9 176.5h0M162.0 182.5h0M146.0 178.6h0M159.2 210.9h0M145.1 187.6h0M156.8 196.0h0M154.1 188.6h0M150.7 188.8h0M159.0 200.3h0M164.6 197.8h0M187.6 185.9h0M184.7 184.8h0M206.1 185.6h0M187.2 191.1h0M179.2 191.4h0M195.7 188.9h0M207.9 184.1h0M183.6 197.9h0M170.2 183.4h0M177.6 183.4h0M206.4 196.1h0M201.7 180.3h0M171.2 198.8h0M192.7 190.4h0M207.7 197.9h0M210.6 181.4h0M186.0 196.7h0M186.2 182.2h0M179.1 195.9h0M179.2 188.3h0M203.3 187.2h0M195.4 196.8h0M171.6 196.9h0M193.1 189.1h0M200.1 181.2h0M218.5 184.8h0M219.7 192.2h0M245.5 198.7h0M232.2 180.8h0M241.9 190.1h0M233.4 191.4h0M229.2 184.8h0M219.9 189.8h0M222.2 180.8h0M243.6 188.6h0M246.1 184.6h0M243.8 194.5h0M223.8 197.8h0M226.6 186.5h0M224.4 183.5h0M245.7 190.1h0M224.7 193.7h0M242.2 188.6h0M246.6 192.8h0M214.2 201.3h0M236.2 189.7h0M238.6 187.3h0M227.6 192.7h0M239.4 199.4h0M220.8 196.2h0M234.0 183.5h0M231.0 185.8h0M224.0 181.3h0M236.9 200.0h0M243.3 186.6h0M233.6 186.9h0M231.5 200.4h0M238.9 220.9h0M241.8 216.1h0M218.6 222.1h0M223.8 225.5h0M214.5 205.5h0M220.8 213.8h0M247.3 208.0h0M226.4 227.5h0M222.8 204.9h0M232.3 217.9h0M235.4 228.3h0M236.0 204.6h0M237.7 204.9h0M239.5 204.7h0M241.2 204.7h0M243.0 205.0h0M244.7 204.8h0M239.9 234.9h0M240.1 208.4h0M241.8 208.0h0M243.5 208.4h0M245.2 208.4h0M246.9 208.4h0M241.5 215.5h0M234.7 204.2h0M232.8 232.5h0M227.2 208.2h0M217.8 208.8h0M243.9 217.3h0M219.3 221.1h0M242.2 225.1h0M246.8 233.8h0M220.0 219.9h0M222.9 216.5h0M247.7 212.2h0M222.3 221.4h0M239.7 202.7h0M246.1 210.8h0M244.1 226.5h0M225.6 216.9h0M249.6 226.5h0M234.7 232.5h0M232.4 222.6h0M214.2 233.1h0M230.3 214.7h0M224.9 217.2h0M225.2 224.3h0M227.1 224.4h0M229.1 224.4h0M231.1 224.3h0M233.1 224.1h0M235.1 224.5h0M237.1 224.4h0M243.1 220.2h0M231.9 230.6h0M218.2 227.1h0M226.3 229.6h0M236.6 230.8h0M216.2 215.3h0M240.9 229.6h0M246.2 213.6h0M217.3 203.5h0M249.3 227.7h0M249.7 223.7h0M216.8 210.5h0M246.8 207.5h0M227.4 229.5h0M229.4 229.6h0M231.3 229.3h0M233.2 229.5h0M235.2 229.4h0M245.6 223.1h0M243.5 202.4h0M245.7 201.6h0M247.9 202.1h0M222.7 213.4h0M223.2 219.2h0M229.8 215.2h0M240.5 212.6h0M222.1 222.5h0M236.5 232.4h0M243.8 202.3h0M215.1 236.1h0M229.1 227.2h0M218.0 216.7h0M220.0 216.7h0M222.0 216.7h0M223.9 217.1h0M237.5 236.1h0M220.4 212.4h0M228.5 209.9h0M226.6 220.4h0M224.3 220.9h0M240.7 203.6h0M242.3 203.3h0M244.0 203.7h0M245.6 203.5h0M247.3 203.6h0M249.0 203.5h0M227.7 224.7h0M231.3 203.8h0M241.5 233.1h0M245.4 223.3h0M247.4 223.2h0M249.5 223.2h0M249.3 223.5h0M234.5 233.2h0M216.7 214.0h0M218.3 214.0h0M219.9 213.7h0M221.5 214.1h0M223.2 214.0h0M224.8 213.9h0M226.4 213.9h0M232.4 214.3h0M231.9 210.8h0M230.9 218.8h0M228.6 211.4h0M226.2 204.1h0M237.2 220.4h0M231.2 220.4h0M230.8 221.4h0M233.1 207.8h0M246.8 225.0h0M243.2 208.4h0M227.9 203.5h0M234.8 208.8h0M246.2 217.7h0M243.2 204.8h0M228.7 218.8h0M230.5 218.7h0M232.3 218.6h0M241.4 215.1h0M229.4 224.3h0M236.0 205.7h0M246.2 204.7h0M230.8 213.0h0M240.2 221.1h0M238.4 208.6h0M231.8 203.1h0M245.9 208.7h0M246.7 202.2h0M238.4 223.5h0M237.6 212.2h0M226.7 223.1h0M234.1 223.1h0M235.8 223.2h0M237.4 222.7h0M239.1 222.9h0M240.8 223.1h0M242.4 222.8h0M244.1 222.8h0M245.8 223.1h0M234.5 207.9h0M240.2 213.5h0M236.7 204.5h0M228.7 226.8h0M230.3 218.0h0M241.0 218.5h0M231.6 218.2h0M233.8 217.8h0M236.0 218.2h0M239.0 213.2h0M242.4 216.8h0M238.1 219.7h0M229.3 222.1h0M238.9 206.3h0M238.7 203.4h0M231.7 220.9h0M245.1 202.9h0M237.0 214.2h0M229.4 224.1h0M239.7 203.0h0M244.4 208.6h0M246.6 208.9h0M238.0 209.0h0M242.5 211.8h0M229.6 222.1h0M231.6 221.7h0M233.6 221.5h0M235.7 221.4h0M237.7 221.5h0M239.7 221.7h0M241.7 221.7h0M236.1 224.7h0M226.2 177.8h0M243.5 167.2h0M214.2 158.4h0M241.4 167.1h0M239.9 168.3h0M220.5 167.5h0M240.8 165.4h0M242.8 178.3h0M248.9 164.9h0M221.7 155.3h0M223.5 176.7h0M228.0 175.1h0M220.4 151.2h0M236.5 156.5h0M220.8 157.9h0M219.7 151.0h0M246.3 248.5h0M225.3 241.9h0M242.1 248.0h0M244.2 248.1h0M246.3 248.5h0M248.5 248.2h0M237.8 240.8h0M249.5 249.5h0M221.3 246.7h0M236.0 246.9h0M230.4 248.9h0M244.4 247.4h0M238.2 237.9h0M240.1 238.0h0M242.0 237.9h0M243.8 238.1h0M245.7 238.1h0M247.6 238.0h0M225.1 238.8h0M229.0 240.4h0M228.7 248.0h0M230.6 248.1h0M232.6 247.7h0M234.5 248.0h0M236.4 247.7h0M218.6 239.8h0M243.7 242.4h0M244.5 247.9h0M236.6 241.7h0M247.5 247.1h0M231.5 247.9h0M230.6 237.7h0M232.5 237.9h0M234.3 238.0h0M236.2 238.1h0M238.1 237.9h0M240.0 238.0h0M241.9 238.0h0M243.7 237.9h0M245.6 238.0h0M231.4 246.5h0M243.0 246.1h0M244.8 246.0h0M246.5 246.4h0M249.5 249.2h0M230.1 248.6h0M236.5 249.2h0M244.5 241.5h0M246.8 241.3h0M249.0 241.4h0M226.6 244.6h0M245.2 247.7h0M245.6 240.0h0M243.8 244.9h0M242.6 247.8h0M244.5 248.3h0M246.4 247.8h0M248.3 248.2h0M246.6 248.4h0M248.6 248.7h0M224.1 240.7h0M233.5 239.1h0M235.7 238.9h0M237.8 238.7h0M239.9 238.1h0M242.1 238.4h0M244.2 238.9h0M246.3 238.7h0M248.5 238.1h0M225.7 241.1h0M243.7 243.1h0M239.9 237.3h0M228.9 239.6h0M230.6 239.7h0M232.2 239.7h0M233.8 239.7h0M235.5 239.4h0M237.1 239.4h0M238.7 239.2h0M240.4 239.4h0M242.0 239.7h0M240.1 239.3h0M231.8 239.0h0M223.4 242.0h0M238.0 239.2h0M232.2 242.5h0M248.1 240.5h0M228.1 245.3h0M222.9 249.6h0M237.2 247.5h0M222.5 242.5h0M236.4 246.5h0M238.2 246.2h0M239.9 245.9h0M241.6 246.3h0M243.3 246.1h0M245.1 246.1h0M246.8 246.5h0M248.5 246.2h0M230.0 240.7h0M223.5 248.6h0M239.0 240.3h0M247.0 249.2h0M244.0 246.6h0M245.8 246.0h0M247.7 245.5h0M249.6 246.5h0M239.5 238.1h0M244.9 246.3h0M234.6 249.3h0M234.2 237.2h0M240.4 246.6h0M220.9 245.1h0M241.1 239.3h0M240.7 242.2h0M227.0 242.3h0M246.4 243.7h0M218.5 242.2h0M229.9 237.0h0M222.4 241.5h0M246.3 249.4h0M221.4 249.6h0M234.8 249.0h0M224.5 239.2h0M226.9 240.4h0M228.7 240.7h0M230.4 240.2h0M232.2 240.5h0M234.0 240.9h0M235.7 240.8h0M237.5 240.8h0M239.3 240.6h0M241.1 240.5h0M263.8 217.7h0M250.3 236.8h0M253.3 192.1h0M266.2 207.6h0M255.5 182.3h0M250.4 230.0h0M262.6 226.2h0M251.6 213.2h0M265.0 199.8h0M252.6 187.8h0M267.7 227.4h0M252.1 226.5h0M251.5 193.5h0M268.3 228.5h0M255.7 220.6h0M263.0 194.2h0M252.5 217.1h0M264.1 209.6h0M256.1 186.9h0M260.3 199.9h0M252.8 217.4h0M256.0 188.7h0M255.9 245.8h0M256.2 245.5h0M256.2 247.7h0M262.4 244.7h0M265.8 244.8h0M261.8 246.5h0M257.9 245.6h0M263.0 238.0h0M264.4 245.9h0M264.8 240.1h0M255.9 243.8h0M260.4 248.6h0M262.2 248.6h0M263.9 248.9h0M265.7 248.6h0M262.6 241.4h0M265.9 240.1h0M261.9 241.9h0M250.8 242.2h0M251.4 249.8h0M253.7 238.6h0M253.3 246.7h0M270.6 240.2h0M269.8 248.3h0M266.4 246.4h0M272.6 242.2h0M271.4 245.2h0M279.2 241.6h0M281.4 246.5h0M283.4 245.9h0M285.5 246.5h0M287.5 246.2h0M289.5 246.0h0M291.5 246.5h0M286.8 240.0h0M278.9 244.8h0M280.8 244.8h0M282.8 244.6h0M284.8 244.4h0M286.8 244.6h0M288.8 244.8h0M277.5 244.5h0M280.0 241.0h0M281.8 241.1h0M279.2 241.8h0M288.2 241.8h0M277.3 245.5h0M288.9 246.7h0M276.7 242.5h0M282.9 240.9h0M280.2 247.4h0M272.5 247.7h0M274.6 248.4h0M276.8 248.1h0M278.9 247.9h0M281.0 247.7h0M285.1 249.7h0M283.6 242.9h0M274.9 243.7h0M279.6 247.1h0M282.1 247.6h0M278.7 238.1h0M280.6 237.8h0M282.5 237.9h0M284.3 238.4h0M279.7 240.1h0M281.5 240.3h0M283.3 240.1h0M285.2 240.0h0M287.0 240.4h0M288.8 240.1h0M290.6 240.1h0M290.5 238.3h0M290.1 240.1h0M279.3 238.9h0M283.5 243.2h0M280.0 238.6h0M276.4 245.7h0M282.7 245.4h0M271.2 249.1h0M273.9 245.4h0M282.8 243.6h0M279.3 249.1h0M275.6 239.0h0M285.6 242.7h0M290.0 247.0h0M283.3 248.6h0M291.1 249.5h0M292.0 246.0h0M283.0 239.1h0M280.0 246.2h0M282.8 242.7h0M286.4 249.0h0M288.7 249.0h0M290.9 249.0h0M278.1 247.5h0M281.2 204.7h0M281.0 224.7h0M278.5 224.4h0M281.3 204.2h0M275.6 221.1h0M279.6 205.5h0M286.6 221.0h0M275.0 195.8h0M276.2 207.6h0M291.6 231.1h0M284.6 217.6h0M284.6 226.8h0M284.7 189.9h0M272.2 208.1h0M284.9 188.5h0M277.5 234.0h0M288.6 234.1h0M271.6 194.1h0M283.8 216.6h0M291.9 213.3h0M272.4 209.8h0M279.6 206.2h0M283.2 193.5h0M273.1 234.8h0M287.7 211.2h0M286.0 220.6h0M281.1 233.6h0M281.9 236.8h0M288.9 189.8h0M272.0 205.5h0M271.2 217.5h0M279.7 210.3h0M286.2 200.6h0M288.9 192.4h0M284.6 228.4h0M281.7 236.8h0M285.5 210.6h0M276.6 199.6h0M271.4 236.6h0M274.4 227.2h0M291.2 230.2h0M279.0 201.8h0M272.9 213.1h0M280.4 196.7h0M282.4 231.1h0M273.7 196.4h0M276.3 194.5h0M279.0 204.3h0M284.8 198.7h0M271.7 197.4h0M283.3 206.6h0M288.7 221.6h0M280.9 235.6h0M285.2 226.4h0M274.5 201.0h0M283.7 233.6h0M284.4 208.6h0M278.9 230.1h0M273.5 194.5h0M276.7 189.3h0M274.8 201.5h0M276.1 201.8h0M290.5 217.3h0M279.9 213.8h0M286.9 210.6h0M277.1 220.0h0M288.6 210.8h0M284.1 203.7h0M284.5 197.0h0M284.8 197.7h0M277.3 228.1h0M272.3 194.6h0M271.5 221.0h0M287.5 233.1h0M288.2 232.5h0M275.5 195.4h0M274.3 194.8h0M276.7 195.5h0M272.8 194.9h0M274.8 197.6h0M282.4 197.6h0M273.3 198.4h0M273.3 195.6h0M260.8 226.1h0M263.4 222.6h0M263.4 151.2h0M263.4 193.8h0M263.4 203.4h0M262.4 223.0h0M262.3 172.6h0M264.7 166.8h0M263.7 145.1h0M258.1 216.4h0M283.3 195.5h0M274.2 199.5h0M285.7 198.7h0M288.3 197.7h0M281.9 197.3h0M277.8 195.2h0M284.9 197.0h0M289.2 197.5h0M275.7 198.2h0M273.4 198.3h0M273.1 218.4h0M275.0 219.8h0M284.5 217.8h0M286.0 214.7h0M291.6 219.6h0M282.8 217.5h0M287.0 219.0h0M290.1 214.5h0M282.8 213.1h0M288.5 216.2h0M255.1 182.8h0M256.7 179.1h0M252.5 161.7h0M257.7 186.9h0M256.7 180.3h0M287.1 185.7h0M289.9 175.0h0M254.6 161.7h0M286.2 161.9h0M290.6 174.9h0M285.1 169.5h0M39.2 243.8h0M36.9 238.3h0" stroke="#000" stroke-width="2.3" stroke-linecap="round" fill="none"/>
<line x1="29" y1="21.3" x2="29" y2="258.4" stroke="#c6c6c6" stroke-width="1.9"/>
<line x1="28.3" y1="258.4" x2="302" y2="258.4" stroke="#8c8c8c" stroke-width="1.05"/>
<line x1="35.25" y1="21.3" x2="35.25" y2="258" stroke="#c6c6e2" stroke-width="1.8"/>
<line x1="284.3" y1="21.3" x2="284.3" y2="258" stroke="#8c8cc4" stroke-width="1"/>
<line x1="141.9" y1="21.3" x2="141.9" y2="258.4" stroke="#df74b8" stroke-width="1.6" stroke-dasharray="4.8,3.95" stroke-dashoffset="4.15"/>
<line x1="177.4" y1="21.3" x2="177.4" y2="258.4" stroke="#d64c9f" stroke-width="1.3" stroke-dasharray="4.8,3.95" stroke-dashoffset="4.15"/>
<line x1="26.6" y1="249.3" x2="28.8" y2="249.3" stroke="#777" stroke-width="0.8"/>
<text transform="translate(21.8,249.3) rotate(-90)" font-family='"Liberation Serif", serif' font-size="9" font-weight="bold" fill="#222" text-anchor="middle">0</text>
<line x1="26.6" y1="207.9" x2="28.8" y2="207.9" stroke="#777" stroke-width="0.8"/>
<text transform="translate(21.8,207.9) rotate(-90)" font-family='"Liberation Serif", serif' font-size="9" font-weight="bold" fill="#222" text-anchor="middle">1</text>
<line x1="26.6" y1="166.5" x2="28.8" y2="166.5" stroke="#777" stroke-width="0.8"/>
<text transform="translate(21.8,166.5) rotate(-90)" font-family='"Liberation Serif", serif' font-size="9" font-weight="bold" fill="#222" text-anchor="middle">2</text>
<line x1="26.6" y1="125.1" x2="28.8" y2="125.1" stroke="#777" stroke-width="0.8"/>
<text transform="translate(21.8,125.1) rotate(-90)" font-family='"Liberation Serif", serif' font-size="9" font-weight="bold" fill="#222" text-anchor="middle">3</text>
<line x1="26.6" y1="83.7" x2="28.8" y2="83.7" stroke="#777" stroke-width="0.8"/>
<text transform="translate(21.8,83.7) rotate(-90)" font-family='"Liberation Serif", serif' font-size="9" font-weight="bold" fill="#222" text-anchor="middle">4</text>
<line x1="26.6" y1="42.3" x2="28.8" y2="42.3" stroke="#777" stroke-width="0.8"/>
<text transform="translate(21.8,42.3) rotate(-90)" font-family='"Liberation Serif", serif' font-size="9" font-weight="bold" fill="#222" text-anchor="middle">5</text>
<text transform="translate(11.2,143.8) rotate(-90)" font-family='"Liberation Serif", serif' font-size="7" font-weight="bold" fill="#222" text-anchor="middle">Log<tspan font-size="4.8" dy="1.3">10</tspan><tspan dy="-1.3">(P)</tspan></text>
<line x1="52.9" y1="258.4" x2="52.9" y2="261" stroke="#777" stroke-width="0.8"/>
<text x="42.6" y="273.2" font-family='"Liberation Serif", serif' font-size="9.4" fill="#222" font-weight="bold" text-anchor="start" textLength="23.7" lengthAdjust="spacingAndGlyphs" >35.40</text>
<line x1="97.4" y1="258.4" x2="97.4" y2="261" stroke="#777" stroke-width="0.8"/>
<text x="81.9" y="273.2" font-family='"Liberation Serif", serif' font-size="9.4" fill="#222" font-weight="bold" text-anchor="start" textLength="23.7" lengthAdjust="spacingAndGlyphs" >35.45</text>
<line x1="141.8" y1="258.4" x2="141.8" y2="261" stroke="#777" stroke-width="0.8"/>
<text x="130.8" y="273.2" font-family='"Liberation Serif", serif' font-size="9.4" fill="#222" font-weight="bold" text-anchor="start" textLength="23.7" lengthAdjust="spacingAndGlyphs" >35.50</text>
<line x1="186.5" y1="258.4" x2="186.5" y2="261" stroke="#777" stroke-width="0.8"/>
<text x="177.8" y="273.2" font-family='"Liberation Serif", serif' font-size="9.4" fill="#222" font-weight="bold" text-anchor="start" textLength="23.7" lengthAdjust="spacingAndGlyphs" >35.55</text>
<line x1="231.0" y1="258.4" x2="231.0" y2="261" stroke="#777" stroke-width="0.8"/>
<text x="218.1" y="273.2" font-family='"Liberation Serif", serif' font-size="9.4" fill="#222" font-weight="bold" text-anchor="start" textLength="23.7" lengthAdjust="spacingAndGlyphs" >35.60</text>
<line x1="275.4" y1="258.4" x2="275.4" y2="261" stroke="#777" stroke-width="0.8"/>
<text x="263.9" y="273.2" font-family='"Liberation Serif", serif' font-size="9.4" fill="#222" font-weight="bold" text-anchor="start" textLength="23.7" lengthAdjust="spacingAndGlyphs" >35.65</text>
<text x="30.0" y="297.9" font-family='"Liberation Sans", sans-serif' font-size="19.6" fill="#16167c" font-weight="normal" text-anchor="start" textLength="33.2" lengthAdjust="spacingAndGlyphs" stroke="#16167c" stroke-width="0.2">(B)</text>
<text transform="translate(15.399999999999999,279.9) rotate(90)" font-family='"Liberation Sans", sans-serif' font-size="7.6" fill="#3c2cc4" stroke="#3c2cc4" stroke-width="0.15" textLength="35" lengthAdjust="spacingAndGlyphs">X35384434</text>
<text transform="translate(138.5,279.9) rotate(90)" font-family='"Liberation Sans", sans-serif' font-size="7.6" fill="#3c2cc4" stroke="#3c2cc4" stroke-width="0.15" textLength="35" lengthAdjust="spacingAndGlyphs">X35509390</text>
<text transform="translate(175.79999999999998,279.9) rotate(90)" font-family='"Liberation Sans", sans-serif' font-size="7.6" fill="#3c2cc4" stroke="#3c2cc4" stroke-width="0.15" textLength="35" lengthAdjust="spacingAndGlyphs">X35543588</text>
<text transform="translate(301.0,279.9) rotate(90)" font-family='"Liberation Sans", sans-serif' font-size="7.6" fill="#3c2cc4" stroke="#3c2cc4" stroke-width="0.15" textLength="35" lengthAdjust="spacingAndGlyphs">X35668582</text>
<defs><clipPath id="tc"><polygon points="16.0,339.0 305.5,339.0 160.8,483.8"/></clipPath></defs>
<polygon points="16.0,339.0 305.5,339.0 160.75,483.75" fill="#f4ec12"/>
<g>
<polygon points="131.0,348.0 207.0,424.0 165.0,466.0 89.0,390.0" fill="#ecc810" opacity="0.18"/>
<polygon points="30.0,339.0 124.0,339.0 77.0,386.0" fill="#eebc1c" opacity="0.6"/>
<line x1="265.7" y1="339.0" x2="285.6" y2="358.9" stroke="#fff400" stroke-width="0.71" opacity="0.16"/>
<line x1="165.2" y1="339.0" x2="90.6" y2="413.6" stroke="#e0b800" stroke-width="0.48" opacity="0.36"/>
<line x1="50.7" y1="339.0" x2="33.4" y2="356.4" stroke="#e8c000" stroke-width="0.49" opacity="0.27"/>
<line x1="266.0" y1="339.0" x2="141.0" y2="464.0" stroke="#fff830" stroke-width="0.52" opacity="0.32"/>
<line x1="113.4" y1="339.0" x2="64.7" y2="387.7" stroke="#ecc800" stroke-width="0.66" opacity="0.39"/>
<line x1="132.9" y1="339.0" x2="219.2" y2="425.3" stroke="#dcb000" stroke-width="0.48" opacity="0.21"/>
<line x1="143.6" y1="339.0" x2="224.5" y2="420.0" stroke="#dcb000" stroke-width="0.53" opacity="0.37"/>
<line x1="97.5" y1="339.0" x2="56.8" y2="379.8" stroke="#ecc800" stroke-width="0.84" opacity="0.40"/>
<line x1="208.8" y1="339.0" x2="257.1" y2="387.4" stroke="#fff400" stroke-width="0.65" opacity="0.26"/>
<line x1="173.5" y1="339.0" x2="94.7" y2="417.7" stroke="#fff400" stroke-width="0.52" opacity="0.19"/>
<line x1="40.4" y1="339.0" x2="120.9" y2="419.5" stroke="#ecc800" stroke-width="0.43" opacity="0.39"/>
<line x1="231.4" y1="339.0" x2="123.7" y2="446.7" stroke="#dcb000" stroke-width="0.70" opacity="0.29"/>
<line x1="89.1" y1="339.0" x2="197.3" y2="447.2" stroke="#fff400" stroke-width="0.51" opacity="0.27"/>
<line x1="248.4" y1="339.0" x2="276.9" y2="367.6" stroke="#fff400" stroke-width="0.89" opacity="0.36"/>
<line x1="48.2" y1="339.0" x2="32.1" y2="355.1" stroke="#fff400" stroke-width="0.71" opacity="0.36"/>
<line x1="47.8" y1="339.0" x2="31.9" y2="354.9" stroke="#fff830" stroke-width="0.83" opacity="0.33"/>
<line x1="263.9" y1="339.0" x2="284.7" y2="359.8" stroke="#e0b800" stroke-width="0.46" opacity="0.27"/>
<line x1="57.0" y1="339.0" x2="36.5" y2="359.5" stroke="#e0b800" stroke-width="0.63" opacity="0.18"/>
<line x1="277.4" y1="339.0" x2="230.6" y2="385.8" stroke="#ecc800" stroke-width="0.88" opacity="0.19"/>
<line x1="211.1" y1="339.0" x2="148.1" y2="402.1" stroke="#fff830" stroke-width="0.74" opacity="0.16"/>
<line x1="254.4" y1="339.0" x2="280.0" y2="364.5" stroke="#e0b800" stroke-width="0.83" opacity="0.34"/>
<line x1="176.8" y1="339.0" x2="241.1" y2="403.4" stroke="#e8c000" stroke-width="0.84" opacity="0.18"/>
<line x1="55.0" y1="339.0" x2="35.5" y2="358.5" stroke="#fff400" stroke-width="0.46" opacity="0.15"/>
<line x1="160.8" y1="339.0" x2="88.4" y2="411.4" stroke="#dcb000" stroke-width="0.79" opacity="0.35"/>
<line x1="271.2" y1="339.0" x2="288.3" y2="356.2" stroke="#e8c000" stroke-width="0.78" opacity="0.38"/>
<line x1="244.2" y1="339.0" x2="274.9" y2="369.6" stroke="#dcb000" stroke-width="0.57" opacity="0.27"/>
<line x1="268.8" y1="339.0" x2="142.4" y2="465.4" stroke="#e8c000" stroke-width="0.61" opacity="0.22"/>
<line x1="119.0" y1="339.0" x2="67.5" y2="390.5" stroke="#e0b800" stroke-width="0.89" opacity="0.21"/>
<line x1="85.0" y1="339.0" x2="120.8" y2="374.8" stroke="#e8c000" stroke-width="0.74" opacity="0.34"/>
<line x1="256.8" y1="339.0" x2="147.5" y2="448.3" stroke="#fff400" stroke-width="0.47" opacity="0.25"/>
<line x1="302.4" y1="339.0" x2="303.9" y2="340.6" stroke="#dcb000" stroke-width="0.51" opacity="0.15"/>
<line x1="292.1" y1="339.0" x2="231.5" y2="399.6" stroke="#fff830" stroke-width="0.60" opacity="0.27"/>
<line x1="200.8" y1="339.0" x2="253.2" y2="391.3" stroke="#ecc800" stroke-width="0.69" opacity="0.28"/>
<line x1="41.5" y1="339.0" x2="134.3" y2="431.8" stroke="#e8c000" stroke-width="0.55" opacity="0.26"/>
<line x1="142.5" y1="339.0" x2="224.0" y2="420.5" stroke="#ecc800" stroke-width="0.52" opacity="0.27"/>
<line x1="152.2" y1="339.0" x2="228.8" y2="415.7" stroke="#fff400" stroke-width="0.41" opacity="0.13"/>
<line x1="143.0" y1="339.0" x2="224.2" y2="420.3" stroke="#e0b800" stroke-width="0.59" opacity="0.21"/>
<line x1="274.3" y1="339.0" x2="289.9" y2="354.6" stroke="#e0b800" stroke-width="0.74" opacity="0.39"/>
<line x1="22.8" y1="339.0" x2="164.2" y2="480.3" stroke="#e0b800" stroke-width="0.44" opacity="0.20"/>
<line x1="67.8" y1="339.0" x2="113.3" y2="384.5" stroke="#fff830" stroke-width="0.74" opacity="0.16"/>
<line x1="94.7" y1="339.0" x2="55.3" y2="378.3" stroke="#ecc800" stroke-width="0.75" opacity="0.31"/>
<line x1="299.8" y1="339.0" x2="302.6" y2="341.9" stroke="#e0b800" stroke-width="0.76" opacity="0.37"/>
<line x1="80.6" y1="339.0" x2="48.3" y2="371.3" stroke="#fff830" stroke-width="0.82" opacity="0.26"/>
<line x1="168.1" y1="339.0" x2="92.0" y2="415.0" stroke="#fff830" stroke-width="0.86" opacity="0.37"/>
<line x1="71.5" y1="339.0" x2="43.7" y2="366.7" stroke="#dcb000" stroke-width="0.58" opacity="0.23"/>
<line x1="70.4" y1="339.0" x2="43.2" y2="366.2" stroke="#fff400" stroke-width="0.49" opacity="0.26"/>
<line x1="43.8" y1="339.0" x2="29.9" y2="352.9" stroke="#e8c000" stroke-width="0.62" opacity="0.28"/>
<line x1="18.9" y1="339.0" x2="162.2" y2="482.3" stroke="#ecc800" stroke-width="0.68" opacity="0.25"/>
<line x1="115.5" y1="339.0" x2="210.5" y2="434.0" stroke="#ecc800" stroke-width="0.84" opacity="0.37"/>
<line x1="83.8" y1="339.0" x2="139.8" y2="395.1" stroke="#e0b800" stroke-width="0.85" opacity="0.30"/>
<line x1="157.7" y1="339.0" x2="231.6" y2="412.9" stroke="#ecc800" stroke-width="0.73" opacity="0.34"/>
<line x1="98.8" y1="339.0" x2="57.4" y2="380.4" stroke="#e0b800" stroke-width="0.82" opacity="0.42"/>
<line x1="213.3" y1="339.0" x2="259.4" y2="385.1" stroke="#fff400" stroke-width="0.77" opacity="0.32"/>
<line x1="186.2" y1="339.0" x2="128.0" y2="397.2" stroke="#e0b800" stroke-width="0.45" opacity="0.23"/>
<line x1="251.5" y1="339.0" x2="133.7" y2="456.7" stroke="#fff830" stroke-width="0.85" opacity="0.25"/>
<line x1="44.6" y1="339.0" x2="175.0" y2="469.5" stroke="#dcb000" stroke-width="0.56" opacity="0.20"/>
<line x1="240.1" y1="339.0" x2="128.0" y2="451.0" stroke="#dcb000" stroke-width="0.58" opacity="0.31"/>
<line x1="233.0" y1="339.0" x2="184.9" y2="387.1" stroke="#fff400" stroke-width="0.77" opacity="0.36"/>
<line x1="130.5" y1="339.0" x2="218.0" y2="426.5" stroke="#e0b800" stroke-width="0.70" opacity="0.15"/>
<line x1="116.9" y1="339.0" x2="211.2" y2="433.3" stroke="#e8c000" stroke-width="0.61" opacity="0.36"/>
<line x1="26.4" y1="339.0" x2="21.2" y2="344.2" stroke="#ecc800" stroke-width="0.85" opacity="0.24"/>
<line x1="96.9" y1="339.0" x2="201.2" y2="443.3" stroke="#e8c000" stroke-width="0.43" opacity="0.27"/>
<line x1="115.6" y1="339.0" x2="145.9" y2="369.3" stroke="#ecc800" stroke-width="0.83" opacity="0.20"/>
<line x1="118.5" y1="339.0" x2="70.4" y2="387.1" stroke="#fff400" stroke-width="0.78" opacity="0.17"/>
<line x1="298.6" y1="339.0" x2="302.1" y2="342.4" stroke="#dcb000" stroke-width="0.74" opacity="0.36"/>
<line x1="219.7" y1="339.0" x2="117.9" y2="440.9" stroke="#e0b800" stroke-width="0.81" opacity="0.39"/>
<line x1="158.4" y1="339.0" x2="232.0" y2="412.5" stroke="#dcb000" stroke-width="0.42" opacity="0.35"/>
<line x1="256.6" y1="339.0" x2="281.0" y2="363.5" stroke="#fff400" stroke-width="0.83" opacity="0.42"/>
<line x1="145.8" y1="339.0" x2="225.6" y2="418.9" stroke="#fff830" stroke-width="0.53" opacity="0.33"/>
<line x1="134.9" y1="339.0" x2="220.2" y2="424.3" stroke="#fff400" stroke-width="0.78" opacity="0.34"/>
<line x1="161.8" y1="339.0" x2="181.9" y2="359.1" stroke="#dcb000" stroke-width="0.45" opacity="0.12"/>
<line x1="48.4" y1="339.0" x2="32.2" y2="355.2" stroke="#e8c000" stroke-width="0.63" opacity="0.16"/>
<line x1="46.0" y1="339.0" x2="31.0" y2="354.0" stroke="#dcb000" stroke-width="0.59" opacity="0.37"/>
<line x1="71.3" y1="339.0" x2="43.6" y2="366.6" stroke="#e0b800" stroke-width="0.51" opacity="0.38"/>
<line x1="207.3" y1="339.0" x2="175.4" y2="370.9" stroke="#fff830" stroke-width="0.51" opacity="0.22"/>
<line x1="227.4" y1="339.0" x2="266.4" y2="378.1" stroke="#e0b800" stroke-width="0.53" opacity="0.12"/>
<line x1="100.4" y1="339.0" x2="203.0" y2="441.5" stroke="#e0b800" stroke-width="0.65" opacity="0.16"/>
<line x1="283.0" y1="339.0" x2="294.3" y2="350.2" stroke="#e8c000" stroke-width="0.80" opacity="0.21"/>
<line x1="239.4" y1="339.0" x2="272.5" y2="372.0" stroke="#ecc800" stroke-width="0.80" opacity="0.32"/>
<line x1="148.9" y1="339.0" x2="174.6" y2="364.7" stroke="#ecc800" stroke-width="0.62" opacity="0.32"/>
<line x1="152.1" y1="339.0" x2="84.0" y2="407.0" stroke="#fff830" stroke-width="0.41" opacity="0.14"/>
<line x1="238.4" y1="339.0" x2="272.0" y2="372.5" stroke="#e0b800" stroke-width="0.57" opacity="0.23"/>
<line x1="68.8" y1="339.0" x2="42.4" y2="365.4" stroke="#ecc800" stroke-width="0.57" opacity="0.15"/>
<line x1="76.0" y1="339.0" x2="46.0" y2="369.0" stroke="#ecc800" stroke-width="0.62" opacity="0.24"/>
<line x1="188.7" y1="339.0" x2="102.3" y2="425.3" stroke="#ecc800" stroke-width="0.86" opacity="0.13"/>
<line x1="170.3" y1="339.0" x2="93.2" y2="416.2" stroke="#fff830" stroke-width="0.53" opacity="0.36"/>
<line x1="160.1" y1="339.0" x2="88.1" y2="411.1" stroke="#dcb000" stroke-width="0.86" opacity="0.30"/>
<line x1="114.6" y1="339.0" x2="210.1" y2="434.4" stroke="#dcb000" stroke-width="0.80" opacity="0.21"/>
<line x1="188.3" y1="339.0" x2="102.1" y2="425.1" stroke="#fff400" stroke-width="0.69" opacity="0.24"/>
<line x1="255.8" y1="339.0" x2="280.7" y2="363.8" stroke="#dcb000" stroke-width="0.71" opacity="0.30"/>
<line x1="52.1" y1="339.0" x2="34.0" y2="357.0" stroke="#e8c000" stroke-width="0.82" opacity="0.31"/>
<line x1="28.2" y1="339.0" x2="51.6" y2="362.4" stroke="#dcb000" stroke-width="0.75" opacity="0.31"/>
<line x1="252.3" y1="339.0" x2="278.9" y2="365.6" stroke="#e0b800" stroke-width="0.67" opacity="0.35"/>
<line x1="19.1" y1="339.0" x2="125.0" y2="445.0" stroke="#fff400" stroke-width="0.60" opacity="0.18"/>
<line x1="253.7" y1="339.0" x2="279.6" y2="364.9" stroke="#fff400" stroke-width="0.54" opacity="0.39"/>
<line x1="229.6" y1="339.0" x2="267.6" y2="376.9" stroke="#fff830" stroke-width="0.52" opacity="0.19"/>
<line x1="85.9" y1="339.0" x2="195.7" y2="448.8" stroke="#e8c000" stroke-width="0.76" opacity="0.26"/>
<line x1="222.0" y1="339.0" x2="119.0" y2="442.0" stroke="#e8c000" stroke-width="0.50" opacity="0.16"/>
<line x1="284.9" y1="339.0" x2="179.7" y2="444.1" stroke="#ecc800" stroke-width="0.68" opacity="0.33"/>
<line x1="86.6" y1="339.0" x2="51.3" y2="374.3" stroke="#e0b800" stroke-width="0.70" opacity="0.14"/>
<line x1="38.2" y1="339.0" x2="90.7" y2="391.5" stroke="#ecc800" stroke-width="0.44" opacity="0.38"/>
<line x1="232.0" y1="339.0" x2="186.4" y2="384.6" stroke="#e8c000" stroke-width="0.82" opacity="0.37"/>
<line x1="265.4" y1="339.0" x2="225.3" y2="379.1" stroke="#fff830" stroke-width="0.70" opacity="0.31"/>
<line x1="130.5" y1="339.0" x2="73.3" y2="396.3" stroke="#e0b800" stroke-width="0.71" opacity="0.31"/>
<line x1="303.1" y1="339.0" x2="304.3" y2="340.2" stroke="#fff400" stroke-width="0.54" opacity="0.30"/>
<line x1="94.0" y1="339.0" x2="199.7" y2="444.8" stroke="#e8c000" stroke-width="0.57" opacity="0.21"/>
<line x1="80.0" y1="339.0" x2="48.0" y2="371.0" stroke="#ecc800" stroke-width="0.80" opacity="0.23"/>
<line x1="253.1" y1="339.0" x2="134.6" y2="457.6" stroke="#e0b800" stroke-width="0.84" opacity="0.28"/>
<line x1="253.2" y1="339.0" x2="134.6" y2="457.6" stroke="#fff830" stroke-width="0.73" opacity="0.27"/>
<line x1="155.4" y1="339.0" x2="85.7" y2="408.7" stroke="#dcb000" stroke-width="0.50" opacity="0.40"/>
<line x1="264.3" y1="339.0" x2="227.8" y2="375.5" stroke="#fff830" stroke-width="0.84" opacity="0.27"/>
<line x1="62.5" y1="339.0" x2="39.2" y2="362.2" stroke="#e0b800" stroke-width="0.48" opacity="0.30"/>
<line x1="203.5" y1="339.0" x2="109.8" y2="432.8" stroke="#e8c000" stroke-width="0.61" opacity="0.29"/>
<line x1="109.8" y1="339.0" x2="62.9" y2="385.9" stroke="#fff400" stroke-width="0.79" opacity="0.27"/>
<line x1="112.0" y1="339.0" x2="180.9" y2="407.8" stroke="#e8c000" stroke-width="0.50" opacity="0.22"/>
<line x1="28.5" y1="339.0" x2="167.0" y2="477.5" stroke="#e8c000" stroke-width="0.57" opacity="0.23"/>
<line x1="211.9" y1="339.0" x2="258.7" y2="385.8" stroke="#e0b800" stroke-width="0.85" opacity="0.13"/>
<line x1="257.1" y1="339.0" x2="136.6" y2="459.6" stroke="#dcb000" stroke-width="0.66" opacity="0.19"/>
<line x1="292.7" y1="339.0" x2="299.1" y2="345.4" stroke="#fff830" stroke-width="0.70" opacity="0.15"/>
<line x1="160.7" y1="339.0" x2="88.3" y2="411.3" stroke="#fff400" stroke-width="0.71" opacity="0.33"/>
<line x1="271.8" y1="339.0" x2="151.0" y2="459.9" stroke="#e0b800" stroke-width="0.57" opacity="0.27"/>
<line x1="215.4" y1="339.0" x2="115.7" y2="438.7" stroke="#ecc800" stroke-width="0.66" opacity="0.30"/>
<line x1="169.8" y1="339.0" x2="108.5" y2="400.3" stroke="#ecc800" stroke-width="0.70" opacity="0.22"/>
<line x1="219.3" y1="339.0" x2="262.4" y2="382.1" stroke="#ecc800" stroke-width="0.88" opacity="0.25"/>
<line x1="214.0" y1="339.0" x2="115.0" y2="438.0" stroke="#ecc800" stroke-width="0.56" opacity="0.31"/>
<line x1="235.4" y1="339.0" x2="125.7" y2="448.7" stroke="#dcb000" stroke-width="0.45" opacity="0.33"/>
<line x1="148.4" y1="339.0" x2="227.0" y2="417.5" stroke="#e8c000" stroke-width="0.73" opacity="0.24"/>
<line x1="192.3" y1="339.0" x2="150.7" y2="380.7" stroke="#e0b800" stroke-width="0.70" opacity="0.13"/>
<line x1="140.9" y1="339.0" x2="223.2" y2="421.3" stroke="#dcb000" stroke-width="0.45" opacity="0.27"/>
<line x1="167.1" y1="339.0" x2="91.5" y2="414.5" stroke="#e8c000" stroke-width="0.82" opacity="0.20"/>
<line x1="288.9" y1="339.0" x2="297.2" y2="347.3" stroke="#fff830" stroke-width="0.41" opacity="0.32"/>
<line x1="48.9" y1="339.0" x2="177.2" y2="467.3" stroke="#fff400" stroke-width="0.87" opacity="0.28"/>
<line x1="34.7" y1="339.0" x2="25.4" y2="348.4" stroke="#dcb000" stroke-width="0.52" opacity="0.25"/>
<line x1="132.7" y1="339.0" x2="219.1" y2="425.4" stroke="#fff400" stroke-width="0.82" opacity="0.31"/>
<line x1="188.5" y1="339.0" x2="247.0" y2="397.5" stroke="#e8c000" stroke-width="0.43" opacity="0.19"/>
<line x1="235.4" y1="339.0" x2="270.5" y2="374.0" stroke="#e8c000" stroke-width="0.41" opacity="0.19"/>
<line x1="129.1" y1="339.0" x2="72.6" y2="395.6" stroke="#dcb000" stroke-width="0.57" opacity="0.13"/>
<line x1="260.1" y1="339.0" x2="282.8" y2="361.7" stroke="#dcb000" stroke-width="0.66" opacity="0.33"/>
<line x1="272.2" y1="339.0" x2="288.9" y2="355.6" stroke="#fff400" stroke-width="0.61" opacity="0.28"/>
<line x1="44.1" y1="339.0" x2="30.0" y2="353.0" stroke="#fff830" stroke-width="0.81" opacity="0.22"/>
<line x1="269.7" y1="339.0" x2="142.9" y2="465.9" stroke="#fff830" stroke-width="0.87" opacity="0.32"/>
<line x1="67.8" y1="339.0" x2="186.7" y2="457.8" stroke="#ecc800" stroke-width="0.51" opacity="0.33"/>
<line x1="60.8" y1="339.0" x2="118.8" y2="397.1" stroke="#ecc800" stroke-width="0.52" opacity="0.34"/>
<line x1="282.0" y1="339.0" x2="149.0" y2="472.0" stroke="#ecc800" stroke-width="0.88" opacity="0.26"/>
<line x1="241.8" y1="339.0" x2="128.9" y2="451.9" stroke="#fff400" stroke-width="0.46" opacity="0.27"/>
<line x1="72.2" y1="339.0" x2="188.9" y2="455.6" stroke="#fff400" stroke-width="0.62" opacity="0.31"/>
<line x1="253.5" y1="339.0" x2="279.5" y2="365.0" stroke="#dcb000" stroke-width="0.54" opacity="0.36"/>
<line x1="19.5" y1="339.0" x2="17.8" y2="340.8" stroke="#fff400" stroke-width="0.59" opacity="0.41"/>
<line x1="271.4" y1="339.0" x2="193.4" y2="417.0" stroke="#fff400" stroke-width="0.64" opacity="0.17"/>
<line x1="256.2" y1="339.0" x2="280.9" y2="363.6" stroke="#e0b800" stroke-width="0.75" opacity="0.37"/>
<line x1="211.4" y1="339.0" x2="258.5" y2="386.0" stroke="#fff830" stroke-width="0.76" opacity="0.34"/>
<line x1="209.5" y1="339.0" x2="112.7" y2="435.7" stroke="#e8c000" stroke-width="0.65" opacity="0.19"/>
<line x1="120.6" y1="339.0" x2="68.3" y2="391.3" stroke="#fff830" stroke-width="0.72" opacity="0.26"/>
<line x1="302.3" y1="339.0" x2="303.9" y2="340.6" stroke="#e8c000" stroke-width="0.74" opacity="0.16"/>
<line x1="198.4" y1="339.0" x2="107.2" y2="430.2" stroke="#e8c000" stroke-width="0.72" opacity="0.26"/>
<line x1="221.8" y1="339.0" x2="155.2" y2="405.6" stroke="#e0b800" stroke-width="0.56" opacity="0.16"/>
<line x1="213.5" y1="339.0" x2="258.9" y2="384.4" stroke="#e0b800" stroke-width="0.50" opacity="0.22"/>
<line x1="125.0" y1="339.0" x2="70.5" y2="393.5" stroke="#e0b800" stroke-width="0.52" opacity="0.40"/>
<line x1="216.1" y1="339.0" x2="260.8" y2="383.7" stroke="#dcb000" stroke-width="0.62" opacity="0.29"/>
<line x1="34.3" y1="339.0" x2="25.1" y2="348.1" stroke="#e0b800" stroke-width="0.65" opacity="0.15"/>
<line x1="272.0" y1="339.0" x2="218.3" y2="392.6" stroke="#e8c000" stroke-width="0.84" opacity="0.34"/>
<line x1="154.0" y1="339.0" x2="85.0" y2="408.0" stroke="#ecc800" stroke-width="0.42" opacity="0.38"/>
<line x1="41.6" y1="339.0" x2="115.0" y2="412.4" stroke="#fff830" stroke-width="0.43" opacity="0.35"/>
<line x1="273.2" y1="339.0" x2="221.6" y2="390.6" stroke="#e8c000" stroke-width="0.57" opacity="0.18"/>
<line x1="262.7" y1="339.0" x2="284.1" y2="360.4" stroke="#dcb000" stroke-width="0.79" opacity="0.13"/>
<line x1="193.1" y1="339.0" x2="104.5" y2="427.5" stroke="#fff400" stroke-width="0.63" opacity="0.39"/>
<line x1="205.4" y1="339.0" x2="110.7" y2="433.7" stroke="#ecc800" stroke-width="0.74" opacity="0.12"/>
<line x1="39.1" y1="339.0" x2="27.5" y2="350.5" stroke="#fff830" stroke-width="0.60" opacity="0.38"/>
<line x1="241.7" y1="339.0" x2="128.8" y2="451.8" stroke="#e0b800" stroke-width="0.84" opacity="0.21"/>
<line x1="217.3" y1="339.0" x2="116.6" y2="439.6" stroke="#fff830" stroke-width="0.82" opacity="0.21"/>
<line x1="103.9" y1="339.0" x2="204.7" y2="439.8" stroke="#ecc800" stroke-width="0.50" opacity="0.38"/>
<line x1="18.8" y1="339.0" x2="162.2" y2="482.3" stroke="#e0b800" stroke-width="0.89" opacity="0.22"/>
<line x1="140.0" y1="339.0" x2="222.7" y2="421.8" stroke="#e0b800" stroke-width="0.73" opacity="0.15"/>
<line x1="247.8" y1="339.0" x2="154.4" y2="432.4" stroke="#fff400" stroke-width="0.55" opacity="0.26"/>
<line x1="145.9" y1="339.0" x2="225.7" y2="418.8" stroke="#e8c000" stroke-width="0.79" opacity="0.22"/>
<line x1="17.5" y1="339.0" x2="16.8" y2="339.8" stroke="#dcb000" stroke-width="0.83" opacity="0.38"/>
<line x1="266.2" y1="339.0" x2="285.9" y2="358.6" stroke="#fff830" stroke-width="0.57" opacity="0.23"/>
<line x1="101.7" y1="339.0" x2="58.9" y2="381.9" stroke="#dcb000" stroke-width="0.82" opacity="0.17"/>
<line x1="231.7" y1="339.0" x2="158.1" y2="412.6" stroke="#fff400" stroke-width="0.47" opacity="0.15"/>
<line x1="51.9" y1="339.0" x2="34.0" y2="357.0" stroke="#ecc800" stroke-width="0.61" opacity="0.40"/>
<line x1="147.5" y1="339.0" x2="81.8" y2="404.8" stroke="#ecc800" stroke-width="0.89" opacity="0.28"/>
<line x1="156.3" y1="339.0" x2="86.2" y2="409.2" stroke="#dcb000" stroke-width="0.52" opacity="0.41"/>
<line x1="166.3" y1="339.0" x2="93.5" y2="411.7" stroke="#dcb000" stroke-width="0.86" opacity="0.25"/>
<line x1="198.9" y1="339.0" x2="176.3" y2="361.6" stroke="#e0b800" stroke-width="0.85" opacity="0.40"/>
<line x1="184.1" y1="339.0" x2="244.8" y2="399.7" stroke="#e8c000" stroke-width="0.52" opacity="0.33"/>
<line x1="130.1" y1="339.0" x2="73.1" y2="396.1" stroke="#fff830" stroke-width="0.58" opacity="0.40"/>
<line x1="95.4" y1="339.0" x2="128.1" y2="371.7" stroke="#fff400" stroke-width="0.41" opacity="0.23"/>
<line x1="40.1" y1="339.0" x2="28.0" y2="351.0" stroke="#e0b800" stroke-width="0.56" opacity="0.14"/>
<line x1="31.6" y1="339.0" x2="23.8" y2="346.8" stroke="#fff400" stroke-width="0.81" opacity="0.28"/>
<line x1="158.0" y1="339.0" x2="87.0" y2="410.0" stroke="#e0b800" stroke-width="0.72" opacity="0.23"/>
<line x1="68.2" y1="339.0" x2="186.9" y2="457.6" stroke="#fff400" stroke-width="0.40" opacity="0.40"/>
<line x1="50.8" y1="339.0" x2="178.2" y2="466.3" stroke="#dcb000" stroke-width="0.56" opacity="0.42"/>
<line x1="97.7" y1="339.0" x2="201.6" y2="442.9" stroke="#e8c000" stroke-width="0.47" opacity="0.17"/>
<line x1="150.5" y1="339.0" x2="228.0" y2="416.5" stroke="#ecc800" stroke-width="0.62" opacity="0.19"/>
<line x1="122.7" y1="339.0" x2="214.1" y2="430.4" stroke="#fff400" stroke-width="0.71" opacity="0.24"/>
<line x1="148.0" y1="339.0" x2="82.0" y2="405.0" stroke="#e8c000" stroke-width="0.60" opacity="0.17"/>
<line x1="123.3" y1="339.0" x2="160.4" y2="376.1" stroke="#fff400" stroke-width="0.80" opacity="0.42"/>
<line x1="104.0" y1="339.0" x2="60.0" y2="383.0" stroke="#ecc800" stroke-width="0.73" opacity="0.41"/>
<line x1="255.9" y1="339.0" x2="135.9" y2="458.9" stroke="#fff400" stroke-width="0.65" opacity="0.18"/>
<line x1="92.0" y1="339.0" x2="198.8" y2="445.7" stroke="#e0b800" stroke-width="0.50" opacity="0.39"/>
<line x1="19.4" y1="339.0" x2="53.4" y2="372.9" stroke="#fff400" stroke-width="0.88" opacity="0.22"/>
<line x1="197.1" y1="339.0" x2="251.3" y2="393.2" stroke="#fff400" stroke-width="0.80" opacity="0.26"/>
<line x1="52.3" y1="339.0" x2="113.7" y2="400.5" stroke="#e0b800" stroke-width="0.70" opacity="0.13"/>
<line x1="32.8" y1="339.0" x2="169.1" y2="475.4" stroke="#e8c000" stroke-width="0.78" opacity="0.34"/>
<line x1="129.3" y1="339.0" x2="72.7" y2="395.7" stroke="#fff400" stroke-width="0.78" opacity="0.20"/>
<line x1="294.8" y1="339.0" x2="155.4" y2="478.4" stroke="#e8c000" stroke-width="0.82" opacity="0.26"/>
<line x1="28.8" y1="339.0" x2="22.4" y2="345.4" stroke="#e0b800" stroke-width="0.89" opacity="0.34"/>
<line x1="120.7" y1="339.0" x2="187.4" y2="405.7" stroke="#fff830" stroke-width="0.59" opacity="0.41"/>
<line x1="249.8" y1="339.0" x2="277.6" y2="366.9" stroke="#dcb000" stroke-width="0.67" opacity="0.24"/>
<line x1="288.5" y1="339.0" x2="297.0" y2="347.5" stroke="#ecc800" stroke-width="0.46" opacity="0.36"/>
<line x1="275.4" y1="339.0" x2="145.7" y2="468.7" stroke="#ecc800" stroke-width="0.58" opacity="0.31"/>
<line x1="62.7" y1="339.0" x2="184.1" y2="460.4" stroke="#ecc800" stroke-width="0.69" opacity="0.16"/>
<line x1="213.9" y1="339.0" x2="259.7" y2="384.8" stroke="#dcb000" stroke-width="0.49" opacity="0.16"/>
<line x1="302.2" y1="339.0" x2="303.8" y2="340.7" stroke="#e0b800" stroke-width="0.48" opacity="0.13"/>
<line x1="271.5" y1="339.0" x2="288.5" y2="356.0" stroke="#fff400" stroke-width="0.49" opacity="0.37"/>
<line x1="31.9" y1="339.0" x2="24.0" y2="347.0" stroke="#ecc800" stroke-width="0.54" opacity="0.13"/>
<line x1="19.5" y1="339.0" x2="78.3" y2="397.8" stroke="#e8c000" stroke-width="0.51" opacity="0.17"/>
<line x1="176.5" y1="339.0" x2="96.2" y2="419.2" stroke="#e0b800" stroke-width="0.73" opacity="0.24"/>
<line x1="173.4" y1="339.0" x2="94.7" y2="417.7" stroke="#e0b800" stroke-width="0.67" opacity="0.20"/>
<line x1="114.6" y1="339.0" x2="183.2" y2="407.6" stroke="#e0b800" stroke-width="0.60" opacity="0.38"/>
<line x1="87.4" y1="339.0" x2="196.4" y2="448.1" stroke="#dcb000" stroke-width="0.54" opacity="0.42"/>
<line x1="268.2" y1="339.0" x2="142.1" y2="465.1" stroke="#fff400" stroke-width="0.42" opacity="0.35"/>
<line x1="247.7" y1="339.0" x2="195.7" y2="390.9" stroke="#e0b800" stroke-width="0.73" opacity="0.20"/>
<line x1="209.8" y1="339.0" x2="133.4" y2="415.4" stroke="#ecc800" stroke-width="0.48" opacity="0.24"/>
<line x1="218.8" y1="339.0" x2="117.4" y2="440.4" stroke="#e8c000" stroke-width="0.55" opacity="0.27"/>
<line x1="187.2" y1="339.0" x2="246.3" y2="398.2" stroke="#e8c000" stroke-width="0.71" opacity="0.13"/>
<line x1="105.3" y1="339.0" x2="205.4" y2="439.1" stroke="#fff830" stroke-width="0.62" opacity="0.21"/>
<line x1="92.9" y1="339.0" x2="54.4" y2="377.4" stroke="#fff400" stroke-width="0.78" opacity="0.28"/>
<line x1="74.3" y1="339.0" x2="45.1" y2="368.1" stroke="#ecc800" stroke-width="0.77" opacity="0.40"/>
<line x1="103.2" y1="339.0" x2="63.5" y2="378.7" stroke="#dcb000" stroke-width="0.87" opacity="0.22"/>
<line x1="52.4" y1="339.0" x2="34.2" y2="357.2" stroke="#e8c000" stroke-width="0.45" opacity="0.27"/>
<line x1="93.0" y1="339.0" x2="54.5" y2="377.5" stroke="#ecc800" stroke-width="0.68" opacity="0.38"/>
<line x1="269.3" y1="339.0" x2="287.4" y2="357.1" stroke="#ecc800" stroke-width="0.51" opacity="0.39"/>
<line x1="136.7" y1="339.0" x2="76.3" y2="399.3" stroke="#e0b800" stroke-width="0.88" opacity="0.22"/>
<line x1="158.4" y1="339.0" x2="87.2" y2="410.2" stroke="#fff400" stroke-width="0.52" opacity="0.21"/>
<line x1="89.4" y1="339.0" x2="52.7" y2="375.7" stroke="#ecc800" stroke-width="0.82" opacity="0.26"/>
<line x1="34.7" y1="339.0" x2="170.1" y2="474.4" stroke="#dcb000" stroke-width="0.49" opacity="0.34"/>
<line x1="263.4" y1="339.0" x2="284.4" y2="360.1" stroke="#e0b800" stroke-width="0.52" opacity="0.15"/>
<line x1="105.3" y1="339.0" x2="205.4" y2="439.1" stroke="#e0b800" stroke-width="0.76" opacity="0.27"/>
<line x1="217.6" y1="339.0" x2="261.5" y2="383.0" stroke="#ecc800" stroke-width="0.44" opacity="0.13"/>
<line x1="18.9" y1="339.0" x2="17.4" y2="340.4" stroke="#fff830" stroke-width="0.69" opacity="0.16"/>
<line x1="61.2" y1="339.0" x2="183.3" y2="461.2" stroke="#e0b800" stroke-width="0.59" opacity="0.23"/>
<line x1="163.5" y1="339.0" x2="225.4" y2="400.9" stroke="#ecc800" stroke-width="0.79" opacity="0.22"/>
<line x1="44.6" y1="339.0" x2="134.2" y2="428.6" stroke="#e0b800" stroke-width="0.65" opacity="0.22"/>
<line x1="26.6" y1="339.0" x2="166.0" y2="478.5" stroke="#e0b800" stroke-width="0.43" opacity="0.28"/>
<line x1="261.8" y1="339.0" x2="138.9" y2="461.9" stroke="#fff400" stroke-width="0.82" opacity="0.14"/>
<line x1="17.7" y1="339.0" x2="78.2" y2="399.5" stroke="#fff400" stroke-width="0.71" opacity="0.28"/>
<line x1="221.1" y1="339.0" x2="263.3" y2="381.2" stroke="#fff400" stroke-width="0.69" opacity="0.24"/>
<line x1="120.7" y1="339.0" x2="213.1" y2="431.4" stroke="#e0b800" stroke-width="0.73" opacity="0.12"/>
<line x1="251.6" y1="339.0" x2="278.6" y2="365.9" stroke="#fff400" stroke-width="0.80" opacity="0.18"/>
<line x1="189.3" y1="339.0" x2="102.7" y2="425.7" stroke="#e8c000" stroke-width="0.76" opacity="0.23"/>
<line x1="114.5" y1="339.0" x2="210.0" y2="434.5" stroke="#fff830" stroke-width="0.82" opacity="0.33"/>
<line x1="81.7" y1="339.0" x2="48.9" y2="371.9" stroke="#fff830" stroke-width="0.82" opacity="0.21"/>
<line x1="224.2" y1="339.0" x2="120.1" y2="443.1" stroke="#ecc800" stroke-width="0.50" opacity="0.36"/>
<line x1="33.1" y1="339.0" x2="24.5" y2="347.5" stroke="#e8c000" stroke-width="0.74" opacity="0.30"/>
<line x1="231.5" y1="339.0" x2="134.3" y2="436.2" stroke="#e8c000" stroke-width="0.44" opacity="0.39"/>
<line x1="169.7" y1="339.0" x2="92.8" y2="415.8" stroke="#fff400" stroke-width="0.43" opacity="0.13"/>
<line x1="77.7" y1="339.0" x2="46.8" y2="369.8" stroke="#dcb000" stroke-width="0.41" opacity="0.26"/>
<line x1="281.5" y1="339.0" x2="241.5" y2="379.0" stroke="#dcb000" stroke-width="0.46" opacity="0.38"/>
<line x1="126.1" y1="339.0" x2="194.6" y2="407.4" stroke="#fff830" stroke-width="0.76" opacity="0.39"/>
<line x1="219.9" y1="339.0" x2="262.7" y2="381.8" stroke="#e0b800" stroke-width="0.82" opacity="0.23"/>
<line x1="253.4" y1="339.0" x2="279.5" y2="365.0" stroke="#ecc800" stroke-width="0.61" opacity="0.16"/>
<line x1="133.8" y1="339.0" x2="219.7" y2="424.8" stroke="#dcb000" stroke-width="0.44" opacity="0.20"/>
<line x1="105.4" y1="339.0" x2="60.7" y2="383.7" stroke="#e8c000" stroke-width="0.81" opacity="0.19"/>
<line x1="33.6" y1="339.0" x2="24.8" y2="347.8" stroke="#fff830" stroke-width="0.55" opacity="0.35"/>
<line x1="177.2" y1="339.0" x2="96.6" y2="419.6" stroke="#fff830" stroke-width="0.68" opacity="0.25"/>
<line x1="278.9" y1="339.0" x2="292.2" y2="352.3" stroke="#e8c000" stroke-width="0.76" opacity="0.19"/>
<line x1="261.3" y1="339.0" x2="283.4" y2="361.1" stroke="#e8c000" stroke-width="0.43" opacity="0.15"/>
<line x1="99.0" y1="339.0" x2="202.3" y2="442.2" stroke="#fff400" stroke-width="0.48" opacity="0.22"/>
<line x1="254.5" y1="339.0" x2="280.0" y2="364.5" stroke="#dcb000" stroke-width="0.64" opacity="0.21"/>
<line x1="34.7" y1="339.0" x2="25.4" y2="348.4" stroke="#e0b800" stroke-width="0.60" opacity="0.15"/>
<line x1="215.9" y1="339.0" x2="115.9" y2="438.9" stroke="#ecc800" stroke-width="0.75" opacity="0.22"/>
<line x1="251.5" y1="339.0" x2="161.1" y2="429.4" stroke="#ecc800" stroke-width="0.80" opacity="0.22"/>
<line x1="129.8" y1="339.0" x2="72.9" y2="395.9" stroke="#e8c000" stroke-width="0.64" opacity="0.38"/>
<line x1="69.9" y1="339.0" x2="187.7" y2="456.8" stroke="#e0b800" stroke-width="0.59" opacity="0.35"/>
<line x1="72.8" y1="339.0" x2="124.6" y2="390.9" stroke="#fff400" stroke-width="0.61" opacity="0.19"/>
<line x1="270.4" y1="339.0" x2="287.9" y2="356.6" stroke="#e8c000" stroke-width="0.80" opacity="0.36"/>
<line x1="130.8" y1="339.0" x2="73.4" y2="396.4" stroke="#fff830" stroke-width="0.61" opacity="0.18"/>
<line x1="102.0" y1="339.0" x2="203.7" y2="440.8" stroke="#dcb000" stroke-width="0.58" opacity="0.30"/>
<line x1="54.4" y1="339.0" x2="35.2" y2="358.2" stroke="#dcb000" stroke-width="0.78" opacity="0.19"/>
<line x1="114.7" y1="339.0" x2="65.3" y2="388.3" stroke="#e8c000" stroke-width="0.63" opacity="0.40"/>
<line x1="46.6" y1="339.0" x2="31.3" y2="354.3" stroke="#e8c000" stroke-width="0.84" opacity="0.22"/>
<line x1="187.1" y1="339.0" x2="246.3" y2="398.2" stroke="#fff830" stroke-width="0.49" opacity="0.18"/>
<line x1="235.9" y1="339.0" x2="125.9" y2="448.9" stroke="#dcb000" stroke-width="0.47" opacity="0.19"/>
<line x1="255.0" y1="339.0" x2="181.3" y2="412.7" stroke="#e0b800" stroke-width="0.44" opacity="0.13"/>
<line x1="293.8" y1="339.0" x2="299.6" y2="344.9" stroke="#dcb000" stroke-width="0.63" opacity="0.31"/>
<line x1="83.0" y1="339.0" x2="49.5" y2="372.5" stroke="#ecc800" stroke-width="0.69" opacity="0.36"/>
<line x1="120.9" y1="339.0" x2="68.5" y2="391.5" stroke="#ecc800" stroke-width="0.70" opacity="0.32"/>
<line x1="70.4" y1="339.0" x2="43.7" y2="365.7" stroke="#dcb000" stroke-width="0.53" opacity="0.22"/>
<line x1="270.6" y1="339.0" x2="288.1" y2="356.4" stroke="#fff400" stroke-width="0.81" opacity="0.30"/>
<line x1="97.2" y1="339.0" x2="201.4" y2="443.1" stroke="#fff830" stroke-width="0.82" opacity="0.40"/>
<line x1="50.5" y1="339.0" x2="140.7" y2="429.2" stroke="#fff830" stroke-width="0.69" opacity="0.42"/>
<line x1="78.6" y1="339.0" x2="192.1" y2="452.4" stroke="#fff400" stroke-width="0.46" opacity="0.34"/>
<line x1="59.9" y1="339.0" x2="37.9" y2="360.9" stroke="#e0b800" stroke-width="0.56" opacity="0.31"/>
<line x1="40.6" y1="339.0" x2="173.0" y2="471.5" stroke="#fff400" stroke-width="0.59" opacity="0.24"/>
<line x1="302.6" y1="339.0" x2="304.0" y2="340.5" stroke="#fff400" stroke-width="0.86" opacity="0.23"/>
<line x1="179.4" y1="339.0" x2="97.7" y2="420.7" stroke="#e0b800" stroke-width="0.86" opacity="0.34"/>
<line x1="183.2" y1="339.0" x2="244.3" y2="400.2" stroke="#fff830" stroke-width="0.79" opacity="0.31"/>
<line x1="100.2" y1="339.0" x2="142.7" y2="381.6" stroke="#e8c000" stroke-width="0.63" opacity="0.13"/>
<line x1="204.8" y1="339.0" x2="110.4" y2="433.4" stroke="#e8c000" stroke-width="0.54" opacity="0.38"/>
<line x1="69.4" y1="339.0" x2="42.7" y2="365.7" stroke="#e8c000" stroke-width="0.81" opacity="0.31"/>
<line x1="264.6" y1="339.0" x2="285.1" y2="359.4" stroke="#fff400" stroke-width="0.88" opacity="0.13"/>
<line x1="211.5" y1="339.0" x2="133.0" y2="417.4" stroke="#e0b800" stroke-width="0.75" opacity="0.27"/>
<line x1="135.7" y1="339.0" x2="220.6" y2="423.9" stroke="#fff830" stroke-width="0.44" opacity="0.25"/>
<line x1="232.7" y1="339.0" x2="185.8" y2="385.9" stroke="#ecc800" stroke-width="0.82" opacity="0.37"/>
<line x1="127.7" y1="339.0" x2="71.9" y2="394.9" stroke="#dcb000" stroke-width="0.81" opacity="0.37"/>
<line x1="29.4" y1="339.0" x2="167.4" y2="477.1" stroke="#e0b800" stroke-width="0.44" opacity="0.38"/>
<line x1="33.9" y1="339.0" x2="25.0" y2="348.0" stroke="#fff830" stroke-width="0.57" opacity="0.40"/>
<line x1="208.2" y1="339.0" x2="256.9" y2="387.6" stroke="#fff400" stroke-width="0.85" opacity="0.30"/>
<line x1="159.1" y1="339.0" x2="232.3" y2="412.2" stroke="#ecc800" stroke-width="0.71" opacity="0.13"/>
<line x1="66.8" y1="339.0" x2="41.4" y2="364.4" stroke="#e0b800" stroke-width="0.49" opacity="0.18"/>
<line x1="181.0" y1="339.0" x2="243.3" y2="401.2" stroke="#e0b800" stroke-width="0.47" opacity="0.32"/>
<line x1="216.9" y1="339.0" x2="261.2" y2="383.3" stroke="#ecc800" stroke-width="0.54" opacity="0.28"/>
<line x1="300.9" y1="339.0" x2="166.1" y2="473.8" stroke="#dcb000" stroke-width="0.84" opacity="0.23"/>
<line x1="172.8" y1="339.0" x2="94.4" y2="417.4" stroke="#e0b800" stroke-width="0.83" opacity="0.36"/>
<line x1="87.0" y1="339.0" x2="133.5" y2="385.5" stroke="#fff830" stroke-width="0.78" opacity="0.15"/>
<line x1="184.2" y1="339.0" x2="244.9" y2="399.6" stroke="#fff830" stroke-width="0.57" opacity="0.30"/>
<line x1="118.1" y1="339.0" x2="67.1" y2="390.1" stroke="#fff400" stroke-width="0.75" opacity="0.19"/>
<line x1="56.0" y1="339.0" x2="180.7" y2="463.8" stroke="#e0b800" stroke-width="0.73" opacity="0.24"/>
<line x1="243.0" y1="339.0" x2="274.3" y2="370.2" stroke="#dcb000" stroke-width="0.80" opacity="0.31"/>
<line x1="282.3" y1="339.0" x2="293.9" y2="350.6" stroke="#fff400" stroke-width="0.49" opacity="0.30"/>
<line x1="104.4" y1="339.0" x2="60.2" y2="383.2" stroke="#fff830" stroke-width="0.64" opacity="0.21"/>
<line x1="37.4" y1="339.0" x2="171.4" y2="473.1" stroke="#ecc800" stroke-width="0.42" opacity="0.28"/>
<line x1="153.6" y1="339.0" x2="208.2" y2="393.6" stroke="#fff830" stroke-width="0.73" opacity="0.37"/>
<line x1="145.3" y1="339.0" x2="80.7" y2="403.7" stroke="#e0b800" stroke-width="0.76" opacity="0.30"/>
<line x1="197.3" y1="339.0" x2="106.6" y2="429.6" stroke="#e0b800" stroke-width="0.56" opacity="0.21"/>
<line x1="161.2" y1="339.0" x2="88.6" y2="411.6" stroke="#e0b800" stroke-width="0.55" opacity="0.22"/>
<line x1="117.9" y1="339.0" x2="66.9" y2="389.9" stroke="#fff400" stroke-width="0.76" opacity="0.29"/>
<line x1="45.7" y1="339.0" x2="30.8" y2="353.8" stroke="#e0b800" stroke-width="0.51" opacity="0.36"/>
<line x1="52.4" y1="339.0" x2="34.2" y2="357.2" stroke="#dcb000" stroke-width="0.51" opacity="0.21"/>
<line x1="162.5" y1="339.0" x2="89.3" y2="412.3" stroke="#e8c000" stroke-width="0.53" opacity="0.17"/>
<line x1="155.9" y1="339.0" x2="230.7" y2="413.8" stroke="#dcb000" stroke-width="0.85" opacity="0.38"/>
<line x1="195.9" y1="339.0" x2="236.4" y2="379.4" stroke="#fff830" stroke-width="0.74" opacity="0.14"/>
<line x1="234.5" y1="339.0" x2="270.0" y2="374.5" stroke="#e0b800" stroke-width="0.43" opacity="0.32"/>
<line x1="303.8" y1="339.0" x2="159.9" y2="482.9" stroke="#fff400" stroke-width="0.63" opacity="0.28"/>
<line x1="108.7" y1="339.0" x2="62.3" y2="385.3" stroke="#dcb000" stroke-width="0.61" opacity="0.23"/>
<line x1="20.8" y1="339.0" x2="139.7" y2="457.9" stroke="#e0b800" stroke-width="0.49" opacity="0.27"/>
<line x1="231.1" y1="339.0" x2="179.9" y2="390.3" stroke="#fff830" stroke-width="0.56" opacity="0.13"/>
<line x1="204.1" y1="339.0" x2="110.1" y2="433.1" stroke="#dcb000" stroke-width="0.67" opacity="0.32"/>
<line x1="94.2" y1="339.0" x2="199.8" y2="444.7" stroke="#ecc800" stroke-width="0.40" opacity="0.19"/>
<line x1="23.1" y1="339.0" x2="164.3" y2="480.2" stroke="#fff830" stroke-width="0.85" opacity="0.12"/>
<line x1="229.4" y1="339.0" x2="122.7" y2="445.7" stroke="#ecc800" stroke-width="0.53" opacity="0.38"/>
<line x1="44.5" y1="339.0" x2="30.3" y2="353.3" stroke="#e0b800" stroke-width="0.65" opacity="0.35"/>
<line x1="60.0" y1="339.0" x2="38.0" y2="361.0" stroke="#e0b800" stroke-width="0.79" opacity="0.17"/>
<line x1="34.2" y1="339.0" x2="78.8" y2="383.6" stroke="#e0b800" stroke-width="0.58" opacity="0.40"/>
<line x1="54.0" y1="339.0" x2="79.1" y2="364.1" stroke="#fff400" stroke-width="0.53" opacity="0.28"/>
<line x1="181.0" y1="339.0" x2="98.5" y2="421.5" stroke="#dcb000" stroke-width="0.50" opacity="0.33"/>
<line x1="67.4" y1="339.0" x2="186.4" y2="458.1" stroke="#ecc800" stroke-width="0.62" opacity="0.13"/>
<line x1="177.8" y1="339.0" x2="96.9" y2="419.9" stroke="#dcb000" stroke-width="0.79" opacity="0.26"/>
<line x1="16.7" y1="339.0" x2="16.4" y2="339.4" stroke="#e8c000" stroke-width="0.70" opacity="0.17"/>
<line x1="263.1" y1="339.0" x2="139.5" y2="462.5" stroke="#e0b800" stroke-width="0.88" opacity="0.24"/>
<line x1="252.8" y1="339.0" x2="279.2" y2="365.3" stroke="#e8c000" stroke-width="0.61" opacity="0.17"/>
<line x1="120.8" y1="339.0" x2="68.4" y2="391.4" stroke="#dcb000" stroke-width="0.83" opacity="0.36"/>
<line x1="139.3" y1="339.0" x2="222.4" y2="422.1" stroke="#fff400" stroke-width="0.46" opacity="0.27"/>
<line x1="284.4" y1="339.0" x2="160.6" y2="462.8" stroke="#ecc800" stroke-width="0.43" opacity="0.17"/>
<line x1="212.8" y1="339.0" x2="259.2" y2="385.3" stroke="#dcb000" stroke-width="0.82" opacity="0.33"/>
<line x1="164.3" y1="339.0" x2="234.9" y2="409.6" stroke="#fff400" stroke-width="0.83" opacity="0.17"/>
<line x1="256.9" y1="339.0" x2="281.2" y2="363.3" stroke="#e0b800" stroke-width="0.60" opacity="0.29"/>
<line x1="150.3" y1="339.0" x2="83.2" y2="406.2" stroke="#ecc800" stroke-width="0.60" opacity="0.31"/>
<line x1="87.0" y1="339.0" x2="51.5" y2="374.5" stroke="#dcb000" stroke-width="0.40" opacity="0.27"/>
<line x1="271.6" y1="339.0" x2="288.6" y2="355.9" stroke="#fff400" stroke-width="0.51" opacity="0.29"/>
<line x1="300.6" y1="339.0" x2="303.0" y2="341.5" stroke="#e8c000" stroke-width="0.89" opacity="0.41"/>
<line x1="228.3" y1="339.0" x2="122.2" y2="445.2" stroke="#dcb000" stroke-width="0.75" opacity="0.37"/>
<line x1="118.7" y1="339.0" x2="212.1" y2="432.4" stroke="#fff830" stroke-width="0.81" opacity="0.36"/>
<line x1="59.2" y1="339.0" x2="37.6" y2="360.6" stroke="#fff830" stroke-width="0.69" opacity="0.28"/>
<line x1="277.0" y1="339.0" x2="291.2" y2="353.3" stroke="#dcb000" stroke-width="0.72" opacity="0.18"/>
<line x1="86.2" y1="339.0" x2="162.8" y2="415.6" stroke="#fff830" stroke-width="0.44" opacity="0.41"/>
<line x1="260.8" y1="339.0" x2="283.2" y2="361.3" stroke="#fff400" stroke-width="0.42" opacity="0.17"/>
<line x1="219.1" y1="339.0" x2="117.6" y2="440.6" stroke="#e0b800" stroke-width="0.59" opacity="0.23"/>
<line x1="37.8" y1="339.0" x2="26.9" y2="349.9" stroke="#e8c000" stroke-width="0.56" opacity="0.19"/>
<line x1="71.7" y1="339.0" x2="160.3" y2="427.6" stroke="#dcb000" stroke-width="0.64" opacity="0.21"/>
<line x1="285.9" y1="339.0" x2="150.9" y2="473.9" stroke="#ecc800" stroke-width="0.79" opacity="0.21"/>
<line x1="169.6" y1="339.0" x2="237.6" y2="406.9" stroke="#e0b800" stroke-width="0.57" opacity="0.16"/>
<line x1="25.0" y1="339.0" x2="165.2" y2="479.3" stroke="#fff830" stroke-width="0.89" opacity="0.37"/>
<line x1="276.0" y1="339.0" x2="290.7" y2="353.8" stroke="#dcb000" stroke-width="0.44" opacity="0.31"/>
<line x1="289.1" y1="339.0" x2="297.3" y2="347.2" stroke="#ecc800" stroke-width="0.90" opacity="0.42"/>
<line x1="232.8" y1="339.0" x2="269.1" y2="375.4" stroke="#e8c000" stroke-width="0.65" opacity="0.15"/>
<line x1="277.2" y1="339.0" x2="146.6" y2="469.6" stroke="#e8c000" stroke-width="0.77" opacity="0.35"/>
<line x1="267.1" y1="339.0" x2="141.6" y2="464.6" stroke="#e8c000" stroke-width="0.87" opacity="0.41"/>
<line x1="57.0" y1="339.0" x2="181.2" y2="463.3" stroke="#e8c000" stroke-width="0.57" opacity="0.31"/>
<defs><pattern id="spk" patternUnits="userSpaceOnUse" width="11" height="11"><rect x="4.4" y="2.2" width="1.1" height="1.1" fill="#e0b000"/><rect x="2.5" y="1.5" width="1.1" height="1.1" fill="#d8a800"/><rect x="2.8" y="4.2" width="1.1" height="1.1" fill="#d8a800"/><rect x="10.3" y="5.4" width="1.1" height="1.1" fill="#e8c000"/><rect x="7.9" y="6.5" width="1.1" height="1.1" fill="#dca400"/><rect x="9.0" y="9.5" width="1.1" height="1.1" fill="#e0b000"/><rect x="1.7" y="7.3" width="1.1" height="1.1" fill="#dca400"/><rect x="0.9" y="7.9" width="1.1" height="1.1" fill="#d8a800"/><rect x="5.2" y="4.4" width="1.1" height="1.1" fill="#dca400"/><rect x="6.1" y="4.7" width="1.1" height="1.1" fill="#dca400"/><rect x="10.9" y="5.9" width="1.1" height="1.1" fill="#e8c000"/><rect x="5.7" y="2.2" width="1.1" height="1.1" fill="#e8c000"/><rect x="10.7" y="3.9" width="1.1" height="1.1" fill="#e0b000"/><rect x="10.5" y="7.9" width="1.1" height="1.1" fill="#e8c000"/></pattern></defs>
<polygon points="16.0,339.0 305.5,339.0 160.75,483.75" fill="url(#spk)" opacity="0.3"/>
<polygon points="305.5,339.0 294.5,339.0 155.25,478.25 160.75,483.75" fill="#f8f400" opacity="0.55"/>
<polygon points="16.0,339.0 26.0,339.0 165.75,478.75 160.75,483.75" fill="#f8f200" opacity="0.6"/>
<polygon points="74.5,359.5 85.5,370.5 78.5,377.5 67.5,366.5" fill="#f0b818" opacity="0.8"/>
<polygon points="84.7,349.0 95.8,360.1 85.5,370.4 74.4,359.3" fill="#f0a010" opacity="0.95"/>
<polygon points="42.0,339.0 78.0,339.0 60.0,357.0" fill="#e4582a" opacity="0.82"/>
<polygon points="52.0,339.0 63.0,350.0 60.5,352.5 49.5,341.5" fill="#e03c1c" opacity="0.75"/>
<polygon points="56.0,339.0 76.0,339.0 66.0,349.0" fill="#dc4020" opacity="0.75"/>
<polygon points="95.6,339.0 116.6,339.0 106.1,349.5" fill="#e4361a"/>
<polygon points="292.0,339.0 300.0,339.0 296.0,343.0" fill="#e44018"/>
</g>
<rect x="16.0" y="317.2" width="289.5" height="21.6" fill="#000"/>
<polygon points="160.5,317.2 166.8,317.2 158.9,337" fill="#fff"/>
<polygon points="276,317.2 282.2,317.2 282,337" fill="#fff"/>
<line x1="253" y1="317.2" x2="272" y2="337" stroke="#fff" stroke-width="0.8"/>
<line x1="256" y1="317.2" x2="273" y2="337" stroke="#fff" stroke-width="0.8"/>
<line x1="259" y1="317.2" x2="274" y2="337" stroke="#fff" stroke-width="0.8"/>
<line x1="262" y1="317.2" x2="274.5" y2="337" stroke="#fff" stroke-width="0.8"/>
<line x1="265" y1="317.2" x2="275" y2="337" stroke="#fff" stroke-width="0.8"/>
<polygon points="20.8,317.2 23.2,317.2 21,333" fill="#fff" opacity="0.24"/>
<polygon points="25.8,317.2 28.2,317.2 26,333" fill="#fff" opacity="0.24"/>
<polygon points="30.8,317.2 33.2,317.2 31,333" fill="#fff" opacity="0.18"/>
<polygon points="51.8,317.2 54.2,317.2 52,333" fill="#fff" opacity="0.30"/>
<polygon points="54.8,317.2 57.2,317.2 55,333" fill="#fff" opacity="0.30"/>
<polygon points="72.8,317.2 75.2,317.2 73,333" fill="#fff" opacity="0.30"/>
<polygon points="75.8,317.2 78.2,317.2 76,333" fill="#fff" opacity="0.24"/>
<polygon points="88.8,317.2 91.2,317.2 89,333" fill="#fff" opacity="0.30"/>
<polygon points="91.8,317.2 94.2,317.2 92,333" fill="#fff" opacity="0.24"/>
<polygon points="97.8,317.2 100.2,317.2 98,333" fill="#fff" opacity="0.18"/>
<polygon points="111.8,317.2 114.2,317.2 112,333" fill="#fff" opacity="0.24"/>
<polygon points="116.8,317.2 119.2,317.2 117,333" fill="#fff" opacity="0.30"/>
<polygon points="120.8,317.2 123.2,317.2 121,333" fill="#fff" opacity="0.42"/>
<polygon points="129.8,317.2 132.2,317.2 130,333" fill="#fff" opacity="0.24"/>
<polygon points="136.8,317.2 139.2,317.2 137,333" fill="#fff" opacity="0.24"/>
<polygon points="148.8,317.2 151.2,317.2 149,333" fill="#fff" opacity="0.24"/>
<polygon points="153.8,317.2 156.2,317.2 154,333" fill="#fff" opacity="0.18"/>
<polygon points="217.8,317.2 220.2,317.2 218,333" fill="#fff" opacity="0.24"/>
<polygon points="226.8,317.2 229.2,317.2 227.5,333" fill="#fff" opacity="0.36"/>
<polygon points="288.8,317.2 291.2,317.2 289,333" fill="#fff" opacity="0.24"/>
<polygon points="294.8,317.2 297.2,317.2 295,333" fill="#fff" opacity="0.24"/>
<polygon points="298.8,317.2 301.2,317.2 299.5,333" fill="#fff" opacity="0.18"/>
<circle cx="16" cy="339" r="0.9" fill="#3030d0"/>
<circle cx="142" cy="339" r="0.9" fill="#3030d0"/>
<circle cx="176.5" cy="339" r="0.9" fill="#3030d0"/>
<circle cx="305.3" cy="339" r="0.9" fill="#3030d0"/>
<defs><linearGradient id="ck2" x1="0" x2="1" y1="0" y2="0"><stop offset="0.0000" stop-color="rgb(255,255,0)"/><stop offset="0.0500" stop-color="rgb(255,255,0)"/><stop offset="0.0500" stop-color="rgb(255,242,0)"/><stop offset="0.1000" stop-color="rgb(255,242,0)"/><stop offset="0.1000" stop-color="rgb(255,228,0)"/><stop offset="0.1500" stop-color="rgb(255,228,0)"/><stop offset="0.1500" stop-color="rgb(255,215,0)"/><stop offset="0.2000" stop-color="rgb(255,215,0)"/><stop offset="0.2000" stop-color="rgb(255,201,0)"/><stop offset="0.2500" stop-color="rgb(255,201,0)"/><stop offset="0.2500" stop-color="rgb(255,188,0)"/><stop offset="0.3000" stop-color="rgb(255,188,0)"/><stop offset="0.3000" stop-color="rgb(255,174,0)"/><stop offset="0.3500" stop-color="rgb(255,174,0)"/><stop offset="0.3500" stop-color="rgb(255,161,0)"/><stop offset="0.4000" stop-color="rgb(255,161,0)"/><stop offset="0.4000" stop-color="rgb(255,148,0)"/><stop offset="0.4500" stop-color="rgb(255,148,0)"/><stop offset="0.4500" stop-color="rgb(255,134,0)"/><stop offset="0.5000" stop-color="rgb(255,134,0)"/><stop offset="0.5000" stop-color="rgb(255,121,0)"/><stop offset="0.5500" stop-color="rgb(255,121,0)"/><stop offset="0.5500" stop-color="rgb(255,107,0)"/><stop offset="0.6000" stop-color="rgb(255,107,0)"/><stop offset="0.6000" stop-color="rgb(255,94,0)"/><stop offset="0.6500" stop-color="rgb(255,94,0)"/><stop offset="0.6500" stop-color="rgb(255,81,0)"/><stop offset="0.7000" stop-color="rgb(255,81,0)"/><stop offset="0.7000" stop-color="rgb(255,67,0)"/><stop offset="0.7500" stop-color="rgb(255,67,0)"/><stop offset="0.7500" stop-color="rgb(255,54,0)"/><stop offset="0.8000" stop-color="rgb(255,54,0)"/><stop offset="0.8000" stop-color="rgb(255,40,0)"/><stop offset="0.8500" stop-color="rgb(255,40,0)"/><stop offset="0.8500" stop-color="rgb(255,27,0)"/><stop offset="0.9000" stop-color="rgb(255,27,0)"/><stop offset="0.9000" stop-color="rgb(255,13,0)"/><stop offset="0.9500" stop-color="rgb(255,13,0)"/><stop offset="0.9500" stop-color="rgb(255,0,0)"/><stop offset="1.0000" stop-color="rgb(255,0,0)"/></linearGradient></defs>
<rect x="186.3" y="492.2" width="127.7" height="12.8" fill="url(#ck2)"/>
<rect x="186.3" y="492.2" width="127.7" height="12.8" fill="none" stroke="#333" stroke-width="0.8"/>
<line x1="186.3" y1="505.0" x2="186.3" y2="507.5" stroke="#555" stroke-width="0.6"/>
<line x1="211.8" y1="505.0" x2="211.8" y2="507.5" stroke="#555" stroke-width="0.6"/>
<line x1="237.4" y1="505.0" x2="237.4" y2="507.5" stroke="#555" stroke-width="0.6"/>
<line x1="262.9" y1="505.0" x2="262.9" y2="507.5" stroke="#555" stroke-width="0.6"/>
<line x1="288.5" y1="505.0" x2="288.5" y2="507.5" stroke="#555" stroke-width="0.6"/>
<line x1="314.0" y1="505.0" x2="314.0" y2="507.5" stroke="#555" stroke-width="0.6"/>
<text x="229.8" y="486" font-family='"Liberation Sans", sans-serif' font-size="7.6" fill="#222" font-weight="normal" text-anchor="start" >R<tspan font-size="4" dy="-2.8">2</tspan><tspan dy="2.8"> Color key</tspan></text>
<text x="186.3" y="514" font-family='"Liberation Sans", sans-serif' font-size="7.6" fill="#222" font-weight="normal" text-anchor="middle" >0</text>
<text x="211.8" y="514" font-family='"Liberation Sans", sans-serif' font-size="7.6" fill="#222" font-weight="normal" text-anchor="middle" >0.2</text>
<text x="237.4" y="514" font-family='"Liberation Sans", sans-serif' font-size="7.6" fill="#222" font-weight="normal" text-anchor="middle" >0.4</text>
<text x="262.9" y="514" font-family='"Liberation Sans", sans-serif' font-size="7.6" fill="#222" font-weight="normal" text-anchor="middle" >0.6</text>
<text x="288.5" y="514" font-family='"Liberation Sans", sans-serif' font-size="7.6" fill="#222" font-weight="normal" text-anchor="middle" >0.8</text>
<text x="314.0" y="514" font-family='"Liberation Sans", sans-serif' font-size="7.6" fill="#222" font-weight="normal" text-anchor="middle" >1</text>
<text x="342.2" y="24.6" font-family='"Liberation Sans", sans-serif' font-size="19.8" fill="#16167c" font-weight="normal" text-anchor="start" textLength="34.0" lengthAdjust="spacingAndGlyphs" stroke="#16167c" stroke-width="0.2">(C)</text>
<line x1="324.1" y1="35.199999999999996" x2="324.1" y2="174.9" stroke="#7c7c7c" stroke-width="1.8"/>
<line x1="405.0" y1="35.199999999999996" x2="405.0" y2="174.9" stroke="#7c7c7c" stroke-width="1.9"/>
<line x1="469.0" y1="35.199999999999996" x2="469.0" y2="174.9" stroke="#727272" stroke-width="1.9"/>
<line x1="536.0" y1="35.199999999999996" x2="536.0" y2="174.9" stroke="#727272" stroke-width="1.9"/>
<line x1="601.5" y1="35.199999999999996" x2="601.5" y2="174.9" stroke="#444" stroke-width="1.35"/>
<line x1="681.4" y1="35.199999999999996" x2="681.4" y2="174.9" stroke="#333" stroke-width="1.2"/>
<line x1="323.20000000000005" y1="35.9" x2="682.0" y2="35.9" stroke="#555" stroke-width="1.5"/>
<line x1="323.20000000000005" y1="70.35" x2="682.0" y2="70.35" stroke="#333" stroke-width="1.3"/>
<line x1="323.20000000000005" y1="93.45" x2="682.0" y2="93.45" stroke="#333" stroke-width="1.3"/>
<line x1="323.20000000000005" y1="118.5" x2="682.0" y2="118.5" stroke="#3a3a3a" stroke-width="1.4"/>
<line x1="323.20000000000005" y1="147.2" x2="682.0" y2="147.2" stroke="#3a3a3a" stroke-width="1.4"/>
<line x1="323.20000000000005" y1="174.3" x2="682.0" y2="174.3" stroke="#333" stroke-width="1.2"/>
<text x="333" y="59.9" font-family='"Liberation Sans", sans-serif' font-size="14.5" fill="#111" font-weight="bold" text-anchor="start" textLength="57.3" lengthAdjust="spacingAndGlyphs" >Position</text>
<text x="407.8" y="59.3" font-family='"Liberation Sans", sans-serif' font-size="12" fill="#111" font-weight="bold" text-anchor="start" textLength="56.6" lengthAdjust="spacingAndGlyphs" >35496399</text>
<text x="474.6" y="59.3" font-family='"Liberation Sans", sans-serif' font-size="12" fill="#111" font-weight="bold" text-anchor="start" textLength="53.7" lengthAdjust="spacingAndGlyphs" >35497210</text>
<text x="541.3" y="59.3" font-family='"Liberation Sans", sans-serif' font-size="12" fill="#111" font-weight="bold" text-anchor="start" textLength="54.3" lengthAdjust="spacingAndGlyphs" >35497424</text>
<text x="604.7" y="59.4" font-family='"Liberation Sans", sans-serif' font-size="12" fill="#111" font-weight="bold" text-anchor="start" textLength="61.5" lengthAdjust="spacingAndGlyphs" >Phenotype</text>
<text x="330.5" y="87.8" font-family='"Liberation Sans", sans-serif' font-size="12" fill="#111" font-weight="bold" text-anchor="start" textLength="65.2" lengthAdjust="spacingAndGlyphs" >Amino acid</text>
<text x="433.5" y="87.8" font-family='"Liberation Sans", sans-serif' font-size="12" fill="#222" font-weight="normal" text-anchor="middle" >I/M</text>
<text x="499.0" y="87.8" font-family='"Liberation Sans", sans-serif' font-size="12" fill="#222" font-weight="normal" text-anchor="middle" >M/I</text>
<text x="569.0" y="87.8" font-family='"Liberation Sans", sans-serif' font-size="12" fill="#222" font-weight="normal" text-anchor="middle" >R/H</text>
<text x="328.7" y="112.1" font-family='"Liberation Sans", sans-serif' font-size="12" fill="#111" font-weight="bold" text-anchor="start" textLength="70.6" lengthAdjust="spacingAndGlyphs" >Haplotype A</text>
<text x="432.2" y="110.8" font-family='"Liberation Sans", sans-serif' font-size="12.4" fill="#222" font-weight="normal" text-anchor="middle" >A</text>
<text x="498.0" y="110.8" font-family='"Liberation Sans", sans-serif' font-size="12.4" fill="#222" font-weight="normal" text-anchor="middle" >G</text>
<text x="565.0" y="110.8" font-family='"Liberation Sans", sans-serif' font-size="12.4" fill="#222" font-weight="normal" text-anchor="middle" >G</text>
<text x="639.9" y="112.0" font-family='"Liberation Sans", sans-serif' font-size="12.4" fill="#222" font-weight="normal" text-anchor="middle" >71.7</text>
<text x="328.7" y="138.3" font-family='"Liberation Sans", sans-serif' font-size="12" fill="#111" font-weight="bold" text-anchor="start" textLength="70.6" lengthAdjust="spacingAndGlyphs" >Haplotype B</text>
<text x="432.2" y="137.5" font-family='"Liberation Sans", sans-serif' font-size="12.4" fill="#222" font-weight="normal" text-anchor="middle" >A</text>
<text x="498.5" y="137.2" font-family='"Liberation Sans", sans-serif' font-size="12.4" fill="#222" font-weight="normal" text-anchor="middle" >A</text>
<text x="565.0" y="137.2" font-family='"Liberation Sans", sans-serif' font-size="12.4" fill="#222" font-weight="normal" text-anchor="middle" >G</text>
<text x="641.3" y="136.9" font-family='"Liberation Sans", sans-serif' font-size="12.4" fill="#222" font-weight="normal" text-anchor="middle" >63.9</text>
<text x="328.7" y="164.6" font-family='"Liberation Sans", sans-serif' font-size="12" fill="#111" font-weight="bold" text-anchor="start" textLength="70.6" lengthAdjust="spacingAndGlyphs" >Haplotype C</text>
<text x="432.5" y="165.0" font-family='"Liberation Sans", sans-serif' font-size="12.4" fill="#222" font-weight="normal" text-anchor="middle" >G</text>
<text x="499.0" y="163.7" font-family='"Liberation Sans", sans-serif' font-size="12.4" fill="#222" font-weight="normal" text-anchor="middle" >G</text>
<text x="565.4" y="165.0" font-family='"Liberation Sans", sans-serif' font-size="12.4" fill="#222" font-weight="normal" text-anchor="middle" >A</text>
<text x="642.5" y="164.4" font-family='"Liberation Sans", sans-serif' font-size="12.4" fill="#222" font-weight="normal" text-anchor="middle" >71.3</text>
<text x="342.2" y="220.9" font-family='"Liberation Sans", sans-serif' font-size="19.6" fill="#16167c" font-weight="normal" text-anchor="start" textLength="34.0" lengthAdjust="spacingAndGlyphs" stroke="#16167c" stroke-width="0.2">(D)</text>
<rect x="343.1" y="232.5" width="333" height="254.6" fill="none" stroke="#e87878" stroke-width="1.2"/>
<line x1="390.4" y1="441.7" x2="659.2" y2="441.7" stroke="#e6e6e6" stroke-width="0.9"/>
<line x1="390.4" y1="418.1" x2="659.2" y2="418.1" stroke="#e6e6e6" stroke-width="0.9"/>
<line x1="390.4" y1="394.4" x2="659.2" y2="394.4" stroke="#e6e6e6" stroke-width="0.9"/>
<line x1="390.4" y1="370.8" x2="659.2" y2="370.8" stroke="#e6e6e6" stroke-width="0.9"/>
<line x1="390.4" y1="347.1" x2="659.2" y2="347.1" stroke="#e6e6e6" stroke-width="0.9"/>
<line x1="390.4" y1="323.5" x2="659.2" y2="323.5" stroke="#e6e6e6" stroke-width="0.9"/>
<line x1="390.4" y1="299.9" x2="659.2" y2="299.9" stroke="#e6e6e6" stroke-width="0.9"/>
<line x1="390.4" y1="276.2" x2="659.2" y2="276.2" stroke="#e6e6e6" stroke-width="0.9"/>
<line x1="434.9" y1="270.6" x2="434.9" y2="450.4" stroke="#e6e6e6" stroke-width="0.9"/>
<line x1="524.7" y1="270.6" x2="524.7" y2="450.4" stroke="#e6e6e6" stroke-width="0.9"/>
<line x1="614.3" y1="270.6" x2="614.3" y2="450.4" stroke="#e6e6e6" stroke-width="0.9"/>
<rect x="390.4" y="270.6" width="268.8" height="179.8" fill="none" stroke="#e04848" stroke-width="1.3"/>
<text x="398.3" y="249.6" font-family='"Liberation Sans", sans-serif' font-size="12.6" fill="#4a2a90" font-weight="bold" text-anchor="start" textLength="222.7" lengthAdjust="spacingAndGlyphs" >Interval Plot of GFTOT vs Haplotype</text>
<text x="456.8" y="262.2" font-family='"Liberation Sans", sans-serif' font-size="10.2" fill="#4a2a90" font-weight="bold" text-anchor="start" textLength="105.4" lengthAdjust="spacingAndGlyphs" >95% CI for the Mean</text>
<line x1="386.5" y1="441.7" x2="390.4" y2="441.7" stroke="#e04848" stroke-width="1"/>
<text x="384.6" y="445.5" font-family='"Liberation Sans", sans-serif' font-size="10.5" fill="#4a2a90" font-weight="bold" text-anchor="end" textLength="11.6" lengthAdjust="spacingAndGlyphs" >60</text>
<line x1="386.5" y1="418.1" x2="390.4" y2="418.1" stroke="#e04848" stroke-width="1"/>
<text x="384.6" y="421.9" font-family='"Liberation Sans", sans-serif' font-size="10.5" fill="#4a2a90" font-weight="bold" text-anchor="end" textLength="11.6" lengthAdjust="spacingAndGlyphs" >62</text>
<line x1="386.5" y1="394.4" x2="390.4" y2="394.4" stroke="#e04848" stroke-width="1"/>
<text x="384.6" y="398.2" font-family='"Liberation Sans", sans-serif' font-size="10.5" fill="#4a2a90" font-weight="bold" text-anchor="end" textLength="11.6" lengthAdjust="spacingAndGlyphs" >64</text>
<line x1="386.5" y1="370.8" x2="390.4" y2="370.8" stroke="#e04848" stroke-width="1"/>
<text x="384.6" y="374.6" font-family='"Liberation Sans", sans-serif' font-size="10.5" fill="#4a2a90" font-weight="bold" text-anchor="end" textLength="11.6" lengthAdjust="spacingAndGlyphs" >66</text>
<line x1="386.5" y1="347.1" x2="390.4" y2="347.1" stroke="#e04848" stroke-width="1"/>
<text x="384.6" y="350.9" font-family='"Liberation Sans", sans-serif' font-size="10.5" fill="#4a2a90" font-weight="bold" text-anchor="end" textLength="11.6" lengthAdjust="spacingAndGlyphs" >68</text>
<line x1="386.5" y1="323.5" x2="390.4" y2="323.5" stroke="#e04848" stroke-width="1"/>
<text x="384.6" y="327.3" font-family='"Liberation Sans", sans-serif' font-size="10.5" fill="#4a2a90" font-weight="bold" text-anchor="end" textLength="11.6" lengthAdjust="spacingAndGlyphs" >70</text>
<line x1="386.5" y1="299.9" x2="390.4" y2="299.9" stroke="#e04848" stroke-width="1"/>
<text x="384.6" y="303.7" font-family='"Liberation Sans", sans-serif' font-size="10.5" fill="#4a2a90" font-weight="bold" text-anchor="end" textLength="11.6" lengthAdjust="spacingAndGlyphs" >72</text>
<line x1="386.5" y1="276.2" x2="390.4" y2="276.2" stroke="#e04848" stroke-width="1"/>
<text x="384.6" y="280.0" font-family='"Liberation Sans", sans-serif' font-size="10.5" fill="#4a2a90" font-weight="bold" text-anchor="end" textLength="11.6" lengthAdjust="spacingAndGlyphs" >74</text>
<line x1="434.9" y1="450.4" x2="434.9" y2="454" stroke="#e04848" stroke-width="1"/>
<text x="434.9" y="464.7" font-family='"Liberation Sans", sans-serif' font-size="12" fill="#4a2a90" font-weight="bold" text-anchor="middle" textLength="65.5" lengthAdjust="spacingAndGlyphs" >Haplotype-A</text>
<line x1="524.7" y1="450.4" x2="524.7" y2="454" stroke="#e04848" stroke-width="1"/>
<text x="524.7" y="464.7" font-family='"Liberation Sans", sans-serif' font-size="12" fill="#4a2a90" font-weight="bold" text-anchor="middle" textLength="65.5" lengthAdjust="spacingAndGlyphs" >Haplotype-B</text>
<line x1="614.3" y1="450.4" x2="614.3" y2="454" stroke="#e04848" stroke-width="1"/>
<text x="614.3" y="464.7" font-family='"Liberation Sans", sans-serif' font-size="12" fill="#4a2a90" font-weight="bold" text-anchor="middle" textLength="65.5" lengthAdjust="spacingAndGlyphs" >Haplotype-C</text>
<text transform="translate(365.7,378.8) rotate(-90)" font-family='"Liberation Sans", sans-serif' font-size="12" font-weight="bold" fill="#4a2a90" textLength="37.8" lengthAdjust="spacingAndGlyphs">GFTOT</text>
<polyline points="435.2,302.4 524.7,394.5 614.3,307.6" fill="none" stroke="#d82020" stroke-width="1.3" stroke-dasharray="1.6,1.2"/>
<line x1="434.9" y1="279.9" x2="434.9" y2="324.7" stroke="#2a3ae0" stroke-width="1.5"/>
<line x1="424.59999999999997" y1="279.9" x2="445.2" y2="279.9" stroke="#2a3ae0" stroke-width="1.5"/>
<line x1="424.59999999999997" y1="324.7" x2="445.2" y2="324.7" stroke="#2a3ae0" stroke-width="1.5"/>
<line x1="524.7" y1="347.2" x2="524.7" y2="440.6" stroke="#2a3ae0" stroke-width="1.5"/>
<line x1="514.4000000000001" y1="347.2" x2="535.0" y2="347.2" stroke="#2a3ae0" stroke-width="1.5"/>
<line x1="514.4000000000001" y1="440.6" x2="535.0" y2="440.6" stroke="#2a3ae0" stroke-width="1.5"/>
<line x1="614.3" y1="283.0" x2="614.3" y2="331.9" stroke="#2a3ae0" stroke-width="1.5"/>
<line x1="604.0" y1="283.0" x2="624.5999999999999" y2="283.0" stroke="#2a3ae0" stroke-width="1.5"/>
<line x1="604.0" y1="331.9" x2="624.5999999999999" y2="331.9" stroke="#2a3ae0" stroke-width="1.5"/>
<rect x="432.2" y="299.4" width="6" height="6" fill="#d00000"/>
<text x="440.4" y="306.0" font-family='"Liberation Sans", sans-serif' font-size="9.5" fill="#4a2a90" font-weight="bold" text-anchor="start" textLength="34" lengthAdjust="spacingAndGlyphs" >71.7963</text>
<rect x="521.7" y="391.5" width="6" height="6" fill="#d00000"/>
<text x="529.9" y="398.1" font-family='"Liberation Sans", sans-serif' font-size="9.5" fill="#4a2a90" font-weight="bold" text-anchor="start" textLength="34" lengthAdjust="spacingAndGlyphs" >63.9947</text>
<rect x="611.3" y="304.6" width="6" height="6" fill="#d00000"/>
<text x="619.5" y="311.2" font-family='"Liberation Sans", sans-serif' font-size="9.5" fill="#4a2a90" font-weight="bold" text-anchor="start" textLength="29.8" lengthAdjust="spacingAndGlyphs" >71.358</text>
<text x="352.2" y="482.5" font-family='"Liberation Sans", sans-serif' font-size="10.2" fill="#d01818" font-weight="bold" text-anchor="start" textLength="283.5" lengthAdjust="spacingAndGlyphs" font-style="italic" >The pooled standard deviation is used to calculate the intervals.</text>
</svg>
</body></html>
